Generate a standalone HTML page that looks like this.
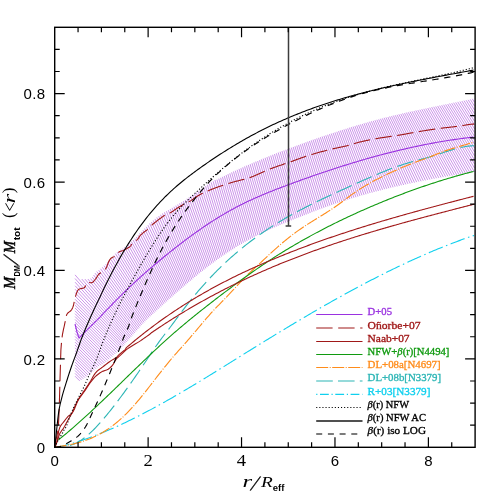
<!DOCTYPE html>
<html><head><meta charset="utf-8"><title>plot</title><style>html,body{margin:0;padding:0;background:#fff}svg{display:block}</style></head><body>
<svg width="501" height="501" viewBox="0 0 501 501">
<rect width="501" height="501" fill="#fff"/>
<path d="M75.04 376.20 L79.71 380.87 M75.06 373.38 L81.56 379.88 M75.07 370.55 L83.27 378.75 M75.08 367.72 L84.98 377.62 M75.09 364.89 L86.69 376.49 M75.10 362.06 L88.25 375.21 M75.11 359.23 L89.82 373.94 M75.13 356.41 L91.39 372.67 M75.14 353.58 L92.81 371.25 M75.01 350.61 L94.38 369.98 M75.02 347.78 L95.95 368.71 M75.03 344.95 L97.52 367.44 M75.04 342.12 L99.08 366.16 M75.05 339.29 L101.08 365.32 M75.07 336.47 L102.78 364.18 M75.08 333.64 L104.49 363.05 M75.09 330.81 L106.06 361.78 M75.10 327.98 L107.63 360.51 M75.09 325.14 L109.17 359.23 M75.03 322.25 L110.67 357.89 M75.07 319.44 L112.26 356.63 M75.07 316.59 L113.67 355.20 M75.02 313.70 L115.19 353.86 M75.01 310.84 L116.73 352.56 M75.05 308.04 L118.18 351.17 M75.06 305.21 L119.61 349.76 M75.00 302.29 L120.97 348.25 M75.05 299.25 L122.15 346.89 M75.01 295.94 L123.36 345.73 M75.05 292.63 L124.46 344.45 M75.10 289.25 L125.51 343.16 M75.13 285.77 L126.65 341.92 M75.08 282.18 L127.84 340.71 M75.05 278.55 L128.88 339.34 M75.03 274.86 L130.05 338.07 M81.79 279.04 L131.19 336.79 M84.95 279.12 L132.32 335.45 M87.89 279.02 L133.53 334.19 M90.52 278.60 L134.72 332.88 M92.27 277.12 L135.78 331.44 M93.56 275.04 L137.00 330.19 M95.06 273.20 L138.15 328.87 M96.73 271.56 L139.33 327.61 M98.67 270.24 L140.42 326.18 M100.49 268.77 L141.62 324.91 M102.29 267.25 L142.81 323.60 M104.04 265.73 L144.08 322.42 M105.75 264.16 L145.32 321.18 M107.45 262.55 L146.55 319.89 M109.14 260.93 L147.77 318.59 M110.83 259.28 L149.09 317.42 M112.30 257.28 L150.41 316.23 M113.86 255.46 L151.71 315.06 M115.42 253.63 L153.02 313.86 M117.12 252.18 L154.38 312.62 M118.92 250.89 L155.75 311.36 M120.82 249.78 L157.11 310.11 M122.74 248.66 L158.49 308.85 M124.56 247.40 L159.86 307.61 M126.39 246.14 L161.25 306.37 M128.02 244.54 L162.64 305.14 M129.75 243.14 L163.93 303.77 M131.40 241.57 L165.33 302.57 M133.07 240.05 L166.74 301.42 M134.77 238.55 L168.08 300.12 M136.40 236.91 L169.43 298.85 M138.05 235.27 L170.89 297.76 M139.61 233.47 L172.26 296.52 M141.29 231.88 L173.65 295.30 M142.91 230.11 L175.05 294.09 M144.62 228.55 L176.36 292.73 M146.27 226.84 L177.78 291.58 M147.94 225.14 L179.22 290.44 M149.63 223.46 L180.57 289.14 M151.42 221.96 L182.02 288.02 M153.21 220.45 L183.39 286.70 M155.01 218.94 L184.84 285.57 M156.81 217.43 L186.22 284.25 M158.70 216.11 L187.67 283.11 M160.58 214.79 L189.04 281.80 M162.47 213.48 L190.50 280.66 M164.43 212.35 L191.95 279.53 M166.39 211.22 L193.37 278.19 M168.28 210.11 L194.92 277.00 M170.17 209.00 L196.48 275.81 M172.06 207.89 L197.96 274.43 M173.94 206.77 L199.51 273.22 M175.83 205.65 L201.07 272.01 M177.71 204.53 L202.62 270.80 M179.60 203.40 L204.18 269.59 M181.48 202.28 L205.73 268.37 M183.36 201.16 L207.28 267.16 M185.24 200.04 L208.84 265.95 M187.05 198.74 L210.39 264.74 M188.93 197.63 L211.94 263.53 M190.74 196.32 L213.56 262.50 M192.63 195.19 L215.13 261.27 M194.47 193.87 L216.70 260.04 M196.30 192.57 L218.34 259.01 M198.13 191.30 L219.90 257.83 M199.98 190.04 L221.49 256.65 M201.84 188.81 L223.08 255.51 M203.72 187.58 L224.75 254.56 M205.52 186.12 L226.32 253.37 M207.36 184.79 L227.95 252.32 M209.29 183.66 L229.59 251.28 M211.15 182.35 L231.23 250.24 M213.08 181.25 L232.88 249.22 M214.95 179.97 L234.52 248.21 M216.97 179.69 L236.26 246.98 M218.77 178.66 L238.06 245.95 M220.62 177.84 L239.86 244.93 M222.42 176.84 L241.66 243.93 M224.28 176.04 L243.41 242.75 M226.10 175.06 L245.23 241.77 M227.92 174.09 L247.05 240.80 M229.79 173.33 L248.87 239.84 M231.61 172.38 L250.69 238.90 M233.43 171.45 L252.51 237.97 M235.31 170.73 L254.27 236.86 M237.15 169.81 L256.11 235.95 M238.99 168.91 L257.95 235.04 M240.88 168.21 L259.79 234.15 M242.72 167.33 L261.63 233.27 M244.56 166.46 L263.47 232.40 M246.40 165.60 L265.31 231.54 M248.30 164.95 L267.15 230.70 M250.14 164.11 L268.99 229.86 M252.00 163.27 L270.85 229.02 M253.86 162.44 L272.71 228.19 M255.72 161.62 L274.57 227.37 M257.63 161.00 L276.43 226.56 M259.49 160.20 L278.29 225.75 M261.35 159.40 L280.15 224.96 M263.21 158.62 L282.01 224.17 M265.07 157.84 L283.87 223.39 M266.93 157.06 L285.73 222.62 M268.81 156.29 L287.61 221.85 M270.69 155.53 L289.49 221.08 M272.57 154.77 L291.37 220.32 M274.45 154.01 L293.25 219.57 M276.33 153.27 L295.13 218.82 M278.21 152.52 L297.01 218.08 M280.09 151.79 L298.89 217.35 M281.97 151.06 L300.77 216.62 M283.91 150.52 L302.65 215.89 M285.79 149.80 L304.53 215.17 M287.67 149.08 L306.41 214.45 M289.55 148.37 L308.29 213.74 M291.39 147.67 L310.21 213.02 M293.19 146.99 L312.12 212.09 M294.98 146.31 L314.08 211.37 M296.77 145.64 L316.05 210.64 M298.57 144.97 L318.01 209.92 M300.38 144.30 L320.00 209.20 M302.20 143.63 L321.99 208.47 M304.01 142.96 L323.97 207.76 M305.82 142.30 L325.96 207.04 M307.64 141.64 L327.94 206.33 M309.45 140.99 L329.93 205.63 M311.27 140.34 L331.91 204.92 M313.08 139.70 L333.90 204.23 M314.89 139.06 L335.88 203.53 M316.71 138.43 L337.87 202.84 M318.52 137.80 L339.92 202.35 M320.34 137.18 L341.90 201.67 M322.15 136.56 L343.89 201.00 M323.97 135.95 L345.87 200.33 M325.78 135.35 L347.86 199.66 M327.60 134.75 L349.84 199.00 M329.43 134.15 L351.85 198.34 M331.26 133.55 L353.86 197.69 M333.10 132.96 L355.93 197.23 M334.93 132.38 L357.94 196.59 M336.77 131.81 L359.94 195.95 M338.53 131.05 L361.95 195.32 M340.34 130.50 L364.05 194.87 M342.15 129.95 L366.08 194.25 M343.97 129.41 L368.10 193.62 M345.80 128.87 L370.15 193.00 M347.63 128.34 L372.27 192.58 M349.39 127.63 L374.32 191.97 M351.22 127.11 L376.37 191.37 M353.05 126.60 L378.49 190.96 M354.89 126.10 L380.54 190.37 M356.64 125.42 L382.59 189.78 M358.49 124.92 L384.66 189.20 M360.34 124.43 L386.81 188.81 M362.19 123.95 L388.88 188.23 M363.97 123.30 L390.95 187.67 M365.82 122.83 L393.10 187.30 M367.67 122.37 L395.17 186.74 M369.46 121.73 L397.34 186.37 M371.33 121.28 L399.43 185.83 M373.20 120.84 L401.52 185.29 M374.98 120.22 L403.70 184.94 M376.84 119.80 L405.81 184.40 M378.68 119.39 L407.93 183.86 M380.45 118.80 L410.15 183.51 M382.31 118.40 L412.29 182.98 M384.09 117.82 L414.52 182.63 M385.95 117.43 L416.66 182.11 M387.83 117.05 L418.83 181.59 M389.62 116.48 L421.08 181.25 M391.50 116.11 L423.24 180.73 M393.29 115.56 L425.49 180.40 M395.16 115.20 L427.66 179.90 M397.06 114.83 L429.93 179.57 M398.87 114.30 L432.12 179.06 M400.76 113.95 L434.39 178.74 M402.57 113.42 L436.58 178.24 M404.46 113.08 L438.86 177.92 M406.29 112.56 L441.06 177.43 M408.20 112.23 L443.36 177.11 M410.02 111.72 L445.57 176.62 M411.94 111.39 L447.87 176.30 M413.93 111.03 L450.04 175.85 M415.84 110.49 L452.30 175.57 M417.84 110.13 L454.45 175.13 M419.85 109.77 L456.71 174.86 M421.75 109.24 L458.87 174.41 M423.75 108.89 L461.02 173.97 M425.76 108.54 L463.28 173.71 M427.68 108.01 L465.46 173.27 M429.70 107.66 L467.74 173.00 M431.62 107.14 L469.92 172.56 M433.65 106.80 L472.20 172.29 M435.67 106.45 L474.48 172.03 M437.59 105.94 L474.51 167.98 M439.61 105.59 L474.53 163.95 M441.63 105.25 L474.52 159.92 M443.57 104.74 L474.52 155.90 M445.61 104.39 L474.51 151.90 M447.66 104.05 L474.57 148.07 M449.59 103.53 L474.52 144.08 M451.64 103.19 L474.56 140.28 M453.59 102.70 L474.60 136.51 M455.66 102.40 L474.52 132.59 M457.70 101.89 L474.55 128.86 M459.85 101.55 L474.58 125.13 M461.89 101.04 L474.50 121.23 M464.04 100.71 L474.53 117.50 M466.08 100.20 L474.56 113.77 M468.23 99.86 L474.59 110.03 M470.27 99.35 L474.51 106.13 M472.31 98.84 L474.54 102.40 M474.46 98.50 L474.57 98.67" stroke="#a23cd8" stroke-width="0.6" stroke-opacity="0.92" fill="none"/>
<defs><clipPath id="cp"><rect x="54.7" y="27.3" width="420.40000000000003" height="420.0"/></clipPath></defs>
<g clip-path="url(#cp)">
<path d="M55.00 447.89 L56.40 447.57 L57.80 447.24 L59.20 446.90 L60.61 446.55 L62.01 446.20 L63.41 445.83 L64.81 445.46 L66.21 445.08 L67.61 444.69 L69.01 444.30 L70.41 443.89 L71.82 443.48 L73.22 443.06 L74.62 442.63 L76.02 442.20 L77.42 441.75 L78.82 441.30 L80.22 440.84 L81.63 440.38 L83.03 439.91 L84.43 439.43 L85.83 438.94 L87.23 438.44 L88.63 437.94 L90.03 437.43 L91.43 436.92 L92.84 436.39 L94.24 435.86 L95.64 435.33 L97.04 434.79 L98.44 434.24 L99.84 433.68 L101.24 433.12 L102.65 432.55 L104.05 431.97 L105.45 431.39 L106.85 430.80 L108.25 430.21 L109.65 429.61 L111.05 429.00 L112.45 428.39 L113.86 427.77 L115.26 427.15 L116.66 426.52 L118.06 425.89 L119.46 425.24 L120.86 424.60 L122.26 423.95 L123.67 423.29 L125.07 422.63 L126.47 421.96 L127.87 421.29 L129.27 420.61 L130.67 419.92 L132.07 419.24 L133.47 418.54 L134.88 417.85 L136.28 417.14 L137.68 416.43 L139.08 415.72 L140.48 415.01 L141.88 414.28 L143.28 413.56 L144.69 412.83 L146.09 412.09 L147.49 411.35 L148.89 410.61 L150.29 409.86 L151.69 409.11 L153.09 408.36 L154.49 407.60 L155.90 406.84 L157.30 406.07 L158.70 405.30 L160.10 404.52 L161.50 403.75 L162.90 402.96 L164.30 402.18 L165.71 401.39 L167.11 400.60 L168.51 399.80 L169.91 399.01 L171.31 398.20 L172.71 397.40 L174.11 396.59 L175.52 395.78 L176.92 394.97 L178.32 394.15 L179.72 393.34 L181.12 392.51 L182.52 391.69 L183.92 390.86 L185.32 390.03 L186.73 389.20 L188.13 388.37 L189.53 387.53 L190.93 386.70 L192.33 385.86 L193.73 385.01 L195.13 384.17 L196.54 383.32 L197.94 382.48 L199.34 381.63 L200.74 380.77 L202.14 379.92 L203.54 379.07 L204.94 378.21 L206.34 377.35 L207.75 376.49 L209.15 375.63 L210.55 374.77 L211.95 373.91 L213.35 373.04 L214.75 372.18 L216.15 371.31 L217.56 370.45 L218.96 369.58 L220.36 368.71 L221.76 367.84 L223.16 366.97 L224.56 366.10 L225.96 365.23 L227.36 364.36 L228.77 363.49 L230.17 362.61 L231.57 361.74 L232.97 360.87 L234.37 360.00 L235.77 359.12 L237.17 358.25 L238.58 357.38 L239.98 356.50 L241.38 355.63 L242.78 354.76 L244.18 353.89 L245.58 353.02 L246.98 352.15 L248.38 351.28 L249.79 350.41 L251.19 349.54 L252.59 348.67 L253.99 347.80 L255.39 346.94 L256.79 346.07 L258.19 345.21 L259.60 344.34 L261.00 343.48 L262.40 342.62 L263.80 341.75 L265.20 340.89 L266.60 340.03 L268.00 339.17 L269.40 338.32 L270.81 337.46 L272.21 336.60 L273.61 335.75 L275.01 334.90 L276.41 334.04 L277.81 333.19 L279.21 332.34 L280.62 331.49 L282.02 330.64 L283.42 329.80 L284.82 328.95 L286.22 328.11 L287.62 327.27 L289.02 326.42 L290.42 325.58 L291.83 324.74 L293.23 323.91 L294.63 323.07 L296.03 322.24 L297.43 321.40 L298.83 320.57 L300.23 319.74 L301.64 318.91 L303.04 318.08 L304.44 317.26 L305.84 316.43 L307.24 315.61 L308.64 314.79 L310.04 313.97 L311.44 313.15 L312.85 312.34 L314.25 311.52 L315.65 310.71 L317.05 309.90 L318.45 309.09 L319.85 308.28 L321.25 307.48 L322.66 306.67 L324.06 305.87 L325.46 305.07 L326.86 304.27 L328.26 303.47 L329.66 302.68 L331.06 301.89 L332.46 301.10 L333.87 300.31 L335.27 299.52 L336.67 298.74 L338.07 297.96 L339.47 297.18 L340.87 296.40 L342.27 295.62 L343.68 294.85 L345.08 294.08 L346.48 293.31 L347.88 292.54 L349.28 291.78 L350.68 291.01 L352.08 290.25 L353.48 289.49 L354.89 288.74 L356.29 287.99 L357.69 287.23 L359.09 286.49 L360.49 285.74 L361.89 285.00 L363.29 284.26 L364.70 283.52 L366.10 282.78 L367.50 282.05 L368.90 281.32 L370.30 280.59 L371.70 279.86 L373.10 279.14 L374.51 278.42 L375.91 277.70 L377.31 276.99 L378.71 276.27 L380.11 275.56 L381.51 274.86 L382.91 274.15 L384.31 273.45 L385.72 272.75 L387.12 272.06 L388.52 271.36 L389.92 270.67 L391.32 269.99 L392.72 269.30 L394.12 268.62 L395.53 267.94 L396.93 267.27 L398.33 266.60 L399.73 265.93 L401.13 265.26 L402.53 264.60 L403.93 263.94 L405.33 263.28 L406.74 262.63 L408.14 261.98 L409.54 261.33 L410.94 260.69 L412.34 260.05 L413.74 259.41 L415.14 258.78 L416.55 258.15 L417.95 257.52 L419.35 256.90 L420.75 256.27 L422.15 255.66 L423.55 255.04 L424.95 254.43 L426.35 253.83 L427.76 253.22 L429.16 252.62 L430.56 252.03 L431.96 251.44 L433.36 250.85 L434.76 250.26 L436.16 249.68 L437.57 249.10 L438.97 248.53 L440.37 247.96 L441.77 247.39 L443.17 246.82 L444.57 246.27 L445.97 245.71 L447.37 245.16 L448.78 244.61 L450.18 244.06 L451.58 243.52 L452.98 242.99 L454.38 242.46 L455.78 241.93 L457.18 241.40 L458.59 240.88 L459.99 240.36 L461.39 239.85 L462.79 239.34 L464.19 238.84 L465.59 238.34 L466.99 237.84 L468.39 237.35 L469.80 236.86 L471.20 236.38 L472.60 235.90 L474.00 235.42" fill="none" stroke="#10d0ee" stroke-width="1.1" stroke-dasharray="15 3.5 1.5 3.5" stroke-linejoin="round"/>
<path d="M70.00 445.41 L71.35 445.02 L72.70 444.56 L74.05 444.03 L75.40 443.43 L76.76 442.77 L78.11 442.04 L79.46 441.25 L80.81 440.40 L82.16 439.49 L83.51 438.53 L84.86 437.51 L86.21 436.43 L87.57 435.31 L88.92 434.14 L90.27 432.92 L91.62 431.65 L92.97 430.35 L94.32 429.00 L95.67 427.61 L97.02 426.18 L98.37 424.72 L99.73 423.23 L101.08 421.71 L102.43 420.15 L103.78 418.57 L105.13 416.96 L106.48 415.33 L107.83 413.68 L109.18 412.01 L110.54 410.32 L111.89 408.61 L113.24 406.88 L114.59 405.15 L115.94 403.39 L117.29 401.62 L118.64 399.83 L119.99 398.03 L121.34 396.22 L122.70 394.39 L124.05 392.55 L125.40 390.69 L126.75 388.82 L128.10 386.94 L129.45 385.05 L130.80 383.14 L132.15 381.22 L133.51 379.29 L134.86 377.35 L136.21 375.40 L137.56 373.44 L138.91 371.46 L140.26 369.48 L141.61 367.49 L142.96 365.49 L144.31 363.48 L145.67 361.46 L147.02 359.43 L148.37 357.41 L149.72 355.39 L151.07 353.37 L152.42 351.37 L153.77 349.39 L155.12 347.42 L156.47 345.48 L157.83 343.57 L159.18 341.68 L160.53 339.84 L161.88 338.03 L163.23 336.26 L164.58 334.51 L165.93 332.77 L167.28 331.03 L168.64 329.29 L169.99 327.52 L171.34 325.73 L172.69 323.92 L174.04 322.09 L175.39 320.25 L176.74 318.40 L178.09 316.56 L179.44 314.73 L180.80 312.92 L182.15 311.12 L183.50 309.34 L184.85 307.58 L186.20 305.84 L187.55 304.12 L188.90 302.41 L190.25 300.72 L191.61 299.05 L192.96 297.39 L194.31 295.76 L195.66 294.14 L197.01 292.54 L198.36 290.95 L199.71 289.38 L201.06 287.83 L202.41 286.29 L203.77 284.78 L205.12 283.27 L206.47 281.79 L207.82 280.32 L209.17 278.86 L210.52 277.43 L211.87 276.00 L213.22 274.60 L214.58 273.21 L215.93 271.83 L217.28 270.47 L218.63 269.13 L219.98 267.80 L221.33 266.48 L222.68 265.18 L224.03 263.90 L225.38 262.63 L226.74 261.37 L228.09 260.13 L229.44 258.90 L230.79 257.68 L232.14 256.48 L233.49 255.29 L234.84 254.12 L236.19 252.96 L237.55 251.81 L238.90 250.67 L240.25 249.55 L241.60 248.44 L242.95 247.34 L244.30 246.25 L245.65 245.18 L247.00 244.12 L248.35 243.07 L249.71 242.03 L251.06 241.00 L252.41 239.99 L253.76 238.98 L255.11 237.99 L256.46 237.01 L257.81 236.03 L259.16 235.07 L260.52 234.12 L261.87 233.18 L263.22 232.25 L264.57 231.33 L265.92 230.42 L267.27 229.51 L268.62 228.62 L269.97 227.74 L271.32 226.86 L272.68 226.00 L274.03 225.14 L275.38 224.30 L276.73 223.46 L278.08 222.63 L279.43 221.80 L280.78 220.99 L282.13 220.18 L283.48 219.38 L284.84 218.59 L286.19 217.81 L287.54 217.03 L288.89 216.26 L290.24 215.50 L291.59 214.74 L292.94 213.99 L294.29 213.25 L295.65 212.51 L297.00 211.78 L298.35 211.06 L299.70 210.34 L301.05 209.63 L302.40 208.92 L303.75 208.22 L305.10 207.52 L306.45 206.83 L307.81 206.14 L309.16 205.46 L310.51 204.78 L311.86 204.11 L313.21 203.44 L314.56 202.78 L315.91 202.12 L317.26 201.46 L318.62 200.81 L319.97 200.16 L321.32 199.51 L322.67 198.87 L324.02 198.23 L325.37 197.59 L326.72 196.96 L328.07 196.33 L329.42 195.70 L330.78 195.07 L332.13 194.44 L333.48 193.82 L334.83 193.20 L336.18 192.58 L337.53 191.96 L338.88 191.35 L340.23 190.73 L341.59 190.12 L342.94 189.50 L344.29 188.89 L345.64 188.28 L346.99 187.67 L348.34 187.06 L349.69 186.44 L351.04 185.83 L352.39 185.22 L353.75 184.61 L355.10 184.00 L356.45 183.39 L357.80 182.78 L359.15 182.17 L360.50 181.57 L361.85 180.96 L363.20 180.36 L364.56 179.76 L365.91 179.16 L367.26 178.57 L368.61 177.97 L369.96 177.38 L371.31 176.80 L372.66 176.21 L374.01 175.63 L375.36 175.06 L376.72 174.49 L378.07 173.92 L379.42 173.36 L380.77 172.80 L382.12 172.25 L383.47 171.70 L384.82 171.16 L386.17 170.62 L387.53 170.09 L388.88 169.57 L390.23 169.05 L391.58 168.54 L392.93 168.03 L394.28 167.54 L395.63 167.05 L396.98 166.56 L398.33 166.09 L399.69 165.62 L401.04 165.16 L402.39 164.71 L403.74 164.27 L405.09 163.84 L406.44 163.42 L407.79 163.00 L409.14 162.60 L410.49 162.20 L411.85 161.82 L413.20 161.44 L414.55 161.07 L415.90 160.70 L417.25 160.34 L418.60 159.98 L419.95 159.62 L421.30 159.26 L422.66 158.90 L424.01 158.53 L425.36 158.17 L426.71 157.79 L428.06 157.41 L429.41 157.02 L430.76 156.61 L432.11 156.20 L433.46 155.78 L434.82 155.36 L436.17 154.92 L437.52 154.48 L438.87 154.04 L440.22 153.60 L441.57 153.15 L442.92 152.71 L444.27 152.26 L445.63 151.83 L446.98 151.39 L448.33 150.96 L449.68 150.54 L451.03 150.13 L452.38 149.72 L453.73 149.33 L455.08 148.95 L456.43 148.59 L457.79 148.23 L459.14 147.90 L460.49 147.58 L461.84 147.29 L463.19 147.01 L464.54 146.75 L465.89 146.52 L467.24 146.31 L468.60 146.13 L469.95 145.98 L471.30 145.85 L472.65 145.75 L474.00 145.69" fill="none" stroke="#2cb5b5" stroke-width="1.1" stroke-dasharray="16.5 5.5" stroke-linejoin="round"/>
<path d="M55.00 447.04 L56.40 446.86 L57.80 446.68 L59.20 446.48 L60.61 446.28 L62.01 446.07 L63.41 445.85 L64.81 445.62 L66.21 445.37 L67.61 445.12 L69.01 444.85 L70.41 444.56 L71.82 444.27 L73.22 443.95 L74.62 443.62 L76.02 443.28 L77.42 442.91 L78.82 442.53 L80.22 442.13 L81.63 441.70 L83.03 441.26 L84.43 440.80 L85.83 440.31 L87.23 439.80 L88.63 439.26 L90.03 438.71 L91.43 438.12 L92.84 437.51 L94.24 436.87 L95.64 436.21 L97.04 435.51 L98.44 434.79 L99.84 434.04 L101.24 433.25 L102.65 432.44 L104.05 431.59 L105.45 430.71 L106.85 429.80 L108.25 428.86 L109.65 427.88 L111.05 426.87 L112.45 425.83 L113.86 424.76 L115.26 423.65 L116.66 422.50 L118.06 421.33 L119.46 420.12 L120.86 418.87 L122.26 417.59 L123.67 416.28 L125.07 414.93 L126.47 413.54 L127.87 412.12 L129.27 410.66 L130.67 409.17 L132.07 407.64 L133.47 406.07 L134.88 404.48 L136.28 402.85 L137.68 401.20 L139.08 399.53 L140.48 397.83 L141.88 396.11 L143.28 394.37 L144.69 392.62 L146.09 390.85 L147.49 389.07 L148.89 387.28 L150.29 385.48 L151.69 383.68 L153.09 381.87 L154.49 380.06 L155.90 378.25 L157.30 376.45 L158.70 374.65 L160.10 372.85 L161.50 371.07 L162.90 369.29 L164.30 367.53 L165.71 365.79 L167.11 364.06 L168.51 362.36 L169.91 360.67 L171.31 359.01 L172.71 357.37 L174.11 355.75 L175.52 354.15 L176.92 352.55 L178.32 350.97 L179.72 349.39 L181.12 347.82 L182.52 346.25 L183.92 344.68 L185.32 343.11 L186.73 341.52 L188.13 339.93 L189.53 338.32 L190.93 336.70 L192.33 335.06 L193.73 333.41 L195.13 331.76 L196.54 330.09 L197.94 328.42 L199.34 326.75 L200.74 325.08 L202.14 323.42 L203.54 321.76 L204.94 320.12 L206.34 318.48 L207.75 316.87 L209.15 315.27 L210.55 313.69 L211.95 312.14 L213.35 310.61 L214.75 309.12 L216.15 307.65 L217.56 306.21 L218.96 304.78 L220.36 303.36 L221.76 301.93 L223.16 300.50 L224.56 299.06 L225.96 297.61 L227.36 296.15 L228.77 294.67 L230.17 293.19 L231.57 291.70 L232.97 290.20 L234.37 288.69 L235.77 287.18 L237.17 285.66 L238.58 284.16 L239.98 282.66 L241.38 281.17 L242.78 279.69 L244.18 278.24 L245.58 276.80 L246.98 275.39 L248.38 274.01 L249.79 272.66 L251.19 271.33 L252.59 270.02 L253.99 268.73 L255.39 267.44 L256.79 266.16 L258.19 264.88 L259.60 263.59 L261.00 262.29 L262.40 260.98 L263.80 259.67 L265.20 258.35 L266.60 257.03 L268.00 255.72 L269.40 254.41 L270.81 253.11 L272.21 251.83 L273.61 250.56 L275.01 249.30 L276.41 248.06 L277.81 246.83 L279.21 245.61 L280.62 244.41 L282.02 243.22 L283.42 242.04 L284.82 240.88 L286.22 239.74 L287.62 238.61 L289.02 237.50 L290.42 236.40 L291.83 235.32 L293.23 234.25 L294.63 233.20 L296.03 232.17 L297.43 231.16 L298.83 230.16 L300.23 229.18 L301.64 228.22 L303.04 227.27 L304.44 226.34 L305.84 225.43 L307.24 224.52 L308.64 223.63 L310.04 222.74 L311.44 221.86 L312.85 220.99 L314.25 220.12 L315.65 219.26 L317.05 218.40 L318.45 217.53 L319.85 216.67 L321.25 215.81 L322.66 214.94 L324.06 214.06 L325.46 213.18 L326.86 212.29 L328.26 211.39 L329.66 210.48 L331.06 209.55 L332.46 208.62 L333.87 207.67 L335.27 206.70 L336.67 205.73 L338.07 204.74 L339.47 203.74 L340.87 202.72 L342.27 201.69 L343.68 200.65 L345.08 199.60 L346.48 198.54 L347.88 197.48 L349.28 196.44 L350.68 195.40 L352.08 194.39 L353.48 193.40 L354.89 192.43 L356.29 191.48 L357.69 190.54 L359.09 189.63 L360.49 188.73 L361.89 187.85 L363.29 186.98 L364.70 186.13 L366.10 185.30 L367.50 184.48 L368.90 183.68 L370.30 182.89 L371.70 182.11 L373.10 181.35 L374.51 180.59 L375.91 179.85 L377.31 179.12 L378.71 178.40 L380.11 177.69 L381.51 176.99 L382.91 176.30 L384.31 175.62 L385.72 174.94 L387.12 174.28 L388.52 173.62 L389.92 172.96 L391.32 172.31 L392.72 171.67 L394.12 171.03 L395.53 170.40 L396.93 169.78 L398.33 169.16 L399.73 168.55 L401.13 167.94 L402.53 167.34 L403.93 166.75 L405.33 166.16 L406.74 165.59 L408.14 165.02 L409.54 164.46 L410.94 163.90 L412.34 163.35 L413.74 162.81 L415.14 162.28 L416.55 161.76 L417.95 161.25 L419.35 160.74 L420.75 160.24 L422.15 159.75 L423.55 159.26 L424.95 158.77 L426.35 158.27 L427.76 157.76 L429.16 157.24 L430.56 156.69 L431.96 156.13 L433.36 155.55 L434.76 154.96 L436.16 154.37 L437.57 153.79 L438.97 153.21 L440.37 152.65 L441.77 152.12 L443.17 151.60 L444.57 151.09 L445.97 150.61 L447.37 150.14 L448.78 149.68 L450.18 149.23 L451.58 148.80 L452.98 148.37 L454.38 147.95 L455.78 147.53 L457.18 147.12 L458.59 146.72 L459.99 146.31 L461.39 145.90 L462.79 145.50 L464.19 145.09 L465.59 144.68 L466.99 144.26 L468.39 143.83 L469.80 143.39 L471.20 142.95 L472.60 142.49 L474.00 142.02" fill="none" stroke="#ff8c1a" stroke-width="1.1" stroke-dasharray="11.4 1.6 1 1.6" stroke-linejoin="round"/>
<path d="M58.40 439.95 L59.79 438.82 L61.19 437.69 L62.58 436.55 L63.97 435.40 L65.37 434.24 L66.76 433.07 L68.15 431.89 L69.55 430.71 L70.94 429.51 L72.33 428.31 L73.73 427.10 L75.12 425.88 L76.51 424.66 L77.91 423.42 L79.30 422.18 L80.69 420.94 L82.09 419.69 L83.48 418.43 L84.87 417.16 L86.27 415.89 L87.66 414.61 L89.05 413.33 L90.45 412.04 L91.84 410.75 L93.23 409.45 L94.63 408.15 L96.02 406.84 L97.41 405.53 L98.81 404.22 L100.20 402.90 L101.59 401.57 L102.99 400.25 L104.38 398.92 L105.77 397.59 L107.17 396.25 L108.56 394.91 L109.95 393.57 L111.35 392.23 L112.74 390.89 L114.13 389.54 L115.53 388.19 L116.92 386.84 L118.31 385.49 L119.71 384.14 L121.10 382.79 L122.49 381.43 L123.89 380.08 L125.28 378.73 L126.67 377.37 L128.07 376.02 L129.46 374.67 L130.85 373.31 L132.25 371.96 L133.64 370.61 L135.03 369.26 L136.43 367.92 L137.82 366.57 L139.21 365.23 L140.61 363.88 L142.00 362.54 L143.39 361.21 L144.79 359.87 L146.18 358.54 L147.57 357.21 L148.97 355.89 L150.36 354.57 L151.75 353.25 L153.15 351.94 L154.54 350.64 L155.93 349.33 L157.33 348.04 L158.72 346.74 L160.11 345.46 L161.51 344.18 L162.90 342.90 L164.29 341.64 L165.68 340.38 L167.08 339.12 L168.47 337.87 L169.86 336.64 L171.26 335.40 L172.65 334.18 L174.04 332.96 L175.44 331.75 L176.83 330.55 L178.22 329.36 L179.62 328.17 L181.01 326.98 L182.40 325.81 L183.80 324.64 L185.19 323.47 L186.58 322.32 L187.98 321.16 L189.37 320.02 L190.76 318.88 L192.16 317.74 L193.55 316.61 L194.94 315.48 L196.34 314.36 L197.73 313.25 L199.12 312.13 L200.52 311.02 L201.91 309.92 L203.30 308.82 L204.70 307.72 L206.09 306.63 L207.48 305.54 L208.88 304.45 L210.27 303.37 L211.66 302.29 L213.06 301.21 L214.45 300.13 L215.84 299.06 L217.24 297.99 L218.63 296.92 L220.02 295.86 L221.42 294.79 L222.81 293.73 L224.20 292.68 L225.60 291.62 L226.99 290.57 L228.38 289.52 L229.78 288.48 L231.17 287.44 L232.56 286.40 L233.96 285.37 L235.35 284.34 L236.74 283.31 L238.14 282.29 L239.53 281.27 L240.92 280.25 L242.32 279.24 L243.71 278.23 L245.10 277.23 L246.50 276.23 L247.89 275.24 L249.28 274.25 L250.68 273.26 L252.07 272.28 L253.46 271.31 L254.86 270.34 L256.25 269.37 L257.64 268.41 L259.04 267.45 L260.43 266.50 L261.82 265.56 L263.22 264.62 L264.61 263.68 L266.00 262.75 L267.40 261.83 L268.79 260.91 L270.18 260.00 L271.58 259.09 L272.97 258.19 L274.36 257.30 L275.76 256.41 L277.15 255.53 L278.54 254.65 L279.94 253.78 L281.33 252.91 L282.72 252.05 L284.12 251.19 L285.51 250.34 L286.90 249.50 L288.30 248.66 L289.69 247.82 L291.08 246.99 L292.48 246.17 L293.87 245.35 L295.26 244.53 L296.66 243.72 L298.05 242.92 L299.44 242.12 L300.84 241.33 L302.23 240.53 L303.62 239.75 L305.02 238.97 L306.41 238.19 L307.80 237.42 L309.20 236.65 L310.59 235.89 L311.98 235.13 L313.38 234.38 L314.77 233.63 L316.16 232.88 L317.56 232.14 L318.95 231.40 L320.34 230.67 L321.74 229.94 L323.13 229.22 L324.52 228.50 L325.92 227.78 L327.31 227.07 L328.70 226.36 L330.10 225.66 L331.49 224.96 L332.88 224.26 L334.28 223.57 L335.67 222.88 L337.06 222.20 L338.46 221.52 L339.85 220.84 L341.24 220.17 L342.64 219.50 L344.03 218.83 L345.42 218.17 L346.82 217.51 L348.21 216.86 L349.60 216.20 L351.00 215.56 L352.39 214.91 L353.78 214.27 L355.18 213.64 L356.57 213.00 L357.96 212.37 L359.36 211.74 L360.75 211.12 L362.14 210.50 L363.54 209.88 L364.93 209.27 L366.32 208.66 L367.72 208.05 L369.11 207.45 L370.50 206.85 L371.89 206.25 L373.29 205.65 L374.68 205.06 L376.07 204.47 L377.47 203.89 L378.86 203.31 L380.25 202.73 L381.65 202.15 L383.04 201.58 L384.43 201.01 L385.83 200.44 L387.22 199.88 L388.61 199.32 L390.01 198.76 L391.40 198.21 L392.79 197.66 L394.19 197.11 L395.58 196.57 L396.97 196.03 L398.37 195.49 L399.76 194.95 L401.15 194.42 L402.55 193.89 L403.94 193.37 L405.33 192.85 L406.73 192.33 L408.12 191.81 L409.51 191.30 L410.91 190.79 L412.30 190.29 L413.69 189.79 L415.09 189.29 L416.48 188.79 L417.87 188.30 L419.27 187.81 L420.66 187.33 L422.05 186.85 L423.45 186.37 L424.84 185.89 L426.23 185.42 L427.63 184.95 L429.02 184.49 L430.41 184.02 L431.81 183.57 L433.20 183.11 L434.59 182.66 L435.99 182.21 L437.38 181.77 L438.77 181.32 L440.17 180.89 L441.56 180.45 L442.95 180.02 L444.35 179.59 L445.74 179.17 L447.13 178.75 L448.53 178.33 L449.92 177.92 L451.31 177.51 L452.71 177.10 L454.10 176.69 L455.49 176.29 L456.89 175.90 L458.28 175.50 L459.67 175.11 L461.07 174.73 L462.46 174.35 L463.85 173.97 L465.25 173.59 L466.64 173.22 L468.03 172.85 L469.43 172.48 L470.82 172.12 L472.21 171.76 L473.61 171.41" fill="none" stroke="#109a10" stroke-width="1.1" stroke-linejoin="round"/>
<path d="M55.00 447.00 L56.19 443.52 L57.37 440.57 L58.56 431.43 L59.75 427.61 L60.93 425.34 L62.12 423.74 L63.31 422.36 L64.49 420.85 L65.68 419.28 L66.86 417.78 L68.05 416.45 L69.24 415.44 L70.42 414.57 L71.61 413.47 L72.80 411.56 L73.98 408.53 L75.17 405.64 L76.36 403.14 L77.54 400.82 L78.73 398.77 L79.92 396.91 L81.10 395.17 L82.29 393.48 L83.47 391.78 L84.66 390.01 L85.85 388.25 L87.03 386.49 L88.22 384.72 L89.41 382.92 L90.59 381.04 L91.78 378.97 L92.97 376.85 L94.15 374.83 L95.34 373.09 L96.53 371.76 L97.71 370.69 L98.90 369.75 L100.08 368.90 L101.27 368.05 L102.46 367.14 L103.64 366.22 L104.83 365.29 L106.02 364.36 L107.20 363.45 L108.39 362.56 L109.58 361.71 L110.76 360.89 L111.95 360.12 L113.14 359.46 L114.32 358.82 L115.51 358.07 L116.69 357.09 L117.88 355.92 L119.07 354.70 L120.25 353.57 L121.44 352.56 L122.63 351.63 L123.81 350.76 L125.00 349.92 L126.41 347.65 L127.81 346.45 L129.22 345.25 L130.62 344.06 L132.03 342.88 L133.43 341.71 L134.84 340.54 L136.24 339.39 L137.65 338.25 L139.06 337.11 L140.46 335.98 L141.87 334.86 L143.27 333.75 L144.68 332.65 L146.08 331.55 L147.49 330.46 L148.90 329.39 L150.30 328.32 L151.71 327.25 L153.11 326.20 L154.52 325.15 L155.92 324.11 L157.33 323.08 L158.73 322.06 L160.14 321.04 L161.55 320.04 L162.95 319.04 L164.36 318.04 L165.76 317.06 L167.17 316.08 L168.57 315.11 L169.98 314.15 L171.39 313.19 L172.79 312.24 L174.20 311.30 L175.60 310.36 L177.01 309.44 L178.41 308.51 L179.82 307.60 L181.22 306.69 L182.63 305.79 L184.04 304.90 L185.44 304.01 L186.85 303.13 L188.25 302.26 L189.66 301.39 L191.06 300.53 L192.47 299.67 L193.88 298.82 L195.28 297.98 L196.69 297.14 L198.09 296.31 L199.50 295.49 L200.90 294.67 L202.31 293.86 L203.71 293.05 L205.12 292.25 L206.53 291.46 L207.93 290.67 L209.34 289.88 L210.74 289.10 L212.15 288.33 L213.55 287.56 L214.96 286.80 L216.37 286.05 L217.77 285.29 L219.18 284.55 L220.58 283.81 L221.99 283.07 L223.39 282.34 L224.80 281.62 L226.20 280.90 L227.61 280.18 L229.02 279.47 L230.42 278.76 L231.83 278.06 L233.23 277.36 L234.64 276.67 L236.04 275.98 L237.45 275.30 L238.86 274.62 L240.26 273.95 L241.67 273.28 L243.07 272.61 L244.48 271.95 L245.88 271.29 L247.29 270.63 L248.69 269.98 L250.10 269.34 L251.51 268.70 L252.91 268.06 L254.32 267.42 L255.72 266.79 L257.13 266.17 L258.53 265.54 L259.94 264.92 L261.35 264.31 L262.75 263.69 L264.16 263.08 L265.56 262.48 L266.97 261.87 L268.37 261.27 L269.78 260.68 L271.18 260.08 L272.59 259.49 L274.00 258.90 L275.40 258.32 L276.81 257.74 L278.21 257.16 L279.62 256.58 L281.02 256.01 L282.43 255.44 L283.84 254.87 L285.24 254.30 L286.65 253.74 L288.05 253.18 L289.46 252.63 L290.86 252.07 L292.27 251.52 L293.67 250.97 L295.08 250.43 L296.49 249.89 L297.89 249.35 L299.30 248.81 L300.70 248.28 L302.11 247.74 L303.51 247.21 L304.92 246.69 L306.33 246.16 L307.73 245.64 L309.14 245.12 L310.54 244.60 L311.95 244.09 L313.35 243.58 L314.76 243.07 L316.16 242.56 L317.57 242.06 L318.98 241.56 L320.38 241.06 L321.79 240.56 L323.19 240.06 L324.60 239.57 L326.00 239.08 L327.41 238.59 L328.82 238.10 L330.22 237.62 L331.63 237.14 L333.03 236.66 L334.44 236.18 L335.84 235.71 L337.25 235.23 L338.65 234.76 L340.06 234.29 L341.47 233.83 L342.87 233.36 L344.28 232.90 L345.68 232.44 L347.09 231.98 L348.49 231.52 L349.90 231.07 L351.31 230.61 L352.71 230.16 L354.12 229.71 L355.52 229.27 L356.93 228.82 L358.33 228.38 L359.74 227.93 L361.14 227.49 L362.55 227.05 L363.96 226.62 L365.36 226.18 L366.77 225.75 L368.17 225.32 L369.58 224.89 L370.98 224.46 L372.39 224.03 L373.80 223.61 L375.20 223.18 L376.61 222.76 L378.01 222.34 L379.42 221.92 L380.82 221.50 L382.23 221.09 L383.63 220.67 L385.04 220.26 L386.45 219.85 L387.85 219.44 L389.26 219.03 L390.66 218.62 L392.07 218.22 L393.47 217.81 L394.88 217.41 L396.29 217.00 L397.69 216.60 L399.10 216.20 L400.50 215.81 L401.91 215.41 L403.31 215.01 L404.72 214.62 L406.12 214.22 L407.53 213.83 L408.94 213.44 L410.34 213.05 L411.75 212.66 L413.15 212.27 L414.56 211.88 L415.96 211.50 L417.37 211.11 L418.78 210.73 L420.18 210.34 L421.59 209.96 L422.99 209.58 L424.40 209.20 L425.80 208.82 L427.21 208.44 L428.61 208.06 L430.02 207.68 L431.43 207.30 L432.83 206.93 L434.24 206.55 L435.64 206.18 L437.05 205.80 L438.45 205.43 L439.86 205.06 L441.27 204.69 L442.67 204.32 L444.08 203.94 L445.48 203.57 L446.89 203.21 L448.29 202.84 L449.70 202.47 L451.10 202.10 L452.51 201.73 L453.92 201.37 L455.32 201.00 L456.73 200.63 L458.13 200.27 L459.54 199.90 L460.94 199.54 L462.35 199.17 L463.76 198.81 L465.16 198.44 L466.57 198.08 L467.97 197.72 L469.38 197.35 L470.78 196.99 L472.19 196.63 L473.59 196.27" fill="none" stroke="#a01818" stroke-width="1.1" stroke-linejoin="round"/>
<path d="M55.00 447.00 L56.61 443.10 L58.22 437.88 L59.83 433.34 L61.44 430.94 L63.05 428.92 L64.66 426.20 L66.27 423.17 L67.88 420.21 L69.49 417.49 L71.10 414.83 L72.71 412.26 L74.32 409.34 L75.93 405.36 L77.54 401.40 L79.15 398.58 L80.76 396.30 L82.37 394.22 L83.98 392.02 L85.59 389.59 L87.20 387.08 L88.81 384.64 L90.42 382.44 L92.03 380.37 L93.64 378.42 L95.25 376.70 L96.86 375.25 L98.47 373.96 L100.08 372.82 L101.69 371.86 L103.31 371.12 L104.92 370.57 L106.53 370.00 L108.14 369.22 L109.75 368.06 L111.36 366.52 L112.97 364.65 L114.58 361.85 L116.19 359.14 L117.80 357.49 L119.41 356.13 L121.02 354.63 L122.63 353.05 L124.24 351.51 L125.85 350.12 L127.46 348.91 L129.07 347.79 L130.68 346.74 L132.29 345.74 L133.90 344.78 L135.51 343.83 L137.12 342.87 L138.73 341.88 L140.34 340.84 L141.95 339.74 L143.56 338.61 L145.17 337.49 L146.78 336.36 L148.39 335.21 L150.00 334.00 L151.30 332.82 L152.60 331.93 L153.90 331.05 L155.20 330.17 L156.51 329.29 L157.81 328.42 L159.11 327.56 L160.41 326.70 L161.71 325.84 L163.01 324.99 L164.31 324.14 L165.61 323.30 L166.92 322.46 L168.22 321.62 L169.52 320.79 L170.82 319.96 L172.12 319.14 L173.42 318.32 L174.72 317.51 L176.02 316.70 L177.33 315.90 L178.63 315.09 L179.93 314.30 L181.23 313.50 L182.53 312.72 L183.83 311.93 L185.13 311.15 L186.43 310.37 L187.73 309.60 L189.04 308.83 L190.34 308.07 L191.64 307.31 L192.94 306.55 L194.24 305.80 L195.54 305.05 L196.84 304.30 L198.14 303.56 L199.45 302.82 L200.75 302.09 L202.05 301.36 L203.35 300.63 L204.65 299.91 L205.95 299.19 L207.25 298.48 L208.55 297.77 L209.86 297.06 L211.16 296.35 L212.46 295.65 L213.76 294.96 L215.06 294.27 L216.36 293.58 L217.66 292.89 L218.96 292.21 L220.27 291.53 L221.57 290.86 L222.87 290.18 L224.17 289.52 L225.47 288.85 L226.77 288.19 L228.07 287.53 L229.37 286.88 L230.67 286.23 L231.98 285.58 L233.28 284.94 L234.58 284.30 L235.88 283.66 L237.18 283.03 L238.48 282.39 L239.78 281.77 L241.08 281.14 L242.39 280.52 L243.69 279.91 L244.99 279.29 L246.29 278.68 L247.59 278.07 L248.89 277.47 L250.19 276.87 L251.49 276.27 L252.80 275.67 L254.10 275.08 L255.40 274.49 L256.70 273.90 L258.00 273.32 L259.30 272.74 L260.60 272.16 L261.90 271.59 L263.20 271.02 L264.51 270.45 L265.81 269.88 L267.11 269.32 L268.41 268.76 L269.71 268.20 L271.01 267.65 L272.31 267.10 L273.61 266.55 L274.92 266.00 L276.22 265.46 L277.52 264.92 L278.82 264.38 L280.12 263.85 L281.42 263.32 L282.72 262.79 L284.02 262.26 L285.33 261.74 L286.63 261.22 L287.93 260.70 L289.23 260.18 L290.53 259.67 L291.83 259.16 L293.13 258.65 L294.43 258.14 L295.73 257.64 L297.04 257.14 L298.34 256.64 L299.64 256.14 L300.94 255.65 L302.24 255.16 L303.54 254.67 L304.84 254.18 L306.14 253.70 L307.45 253.21 L308.75 252.74 L310.05 252.26 L311.35 251.78 L312.65 251.31 L313.95 250.84 L315.25 250.37 L316.55 249.91 L317.86 249.44 L319.16 248.98 L320.46 248.52 L321.76 248.06 L323.06 247.61 L324.36 247.15 L325.66 246.70 L326.96 246.25 L328.27 245.81 L329.57 245.36 L330.87 244.92 L332.17 244.48 L333.47 244.04 L334.77 243.60 L336.07 243.16 L337.37 242.73 L338.67 242.30 L339.98 241.87 L341.28 241.44 L342.58 241.02 L343.88 240.59 L345.18 240.17 L346.48 239.75 L347.78 239.33 L349.08 238.91 L350.39 238.50 L351.69 238.08 L352.99 237.67 L354.29 237.26 L355.59 236.85 L356.89 236.45 L358.19 236.04 L359.49 235.64 L360.80 235.24 L362.10 234.84 L363.40 234.44 L364.70 234.04 L366.00 233.64 L367.30 233.25 L368.60 232.85 L369.90 232.46 L371.20 232.07 L372.51 231.68 L373.81 231.30 L375.11 230.91 L376.41 230.53 L377.71 230.14 L379.01 229.76 L380.31 229.38 L381.61 229.00 L382.92 228.62 L384.22 228.25 L385.52 227.87 L386.82 227.50 L388.12 227.12 L389.42 226.75 L390.72 226.38 L392.02 226.01 L393.33 225.64 L394.63 225.27 L395.93 224.91 L397.23 224.54 L398.53 224.18 L399.83 223.81 L401.13 223.45 L402.43 223.09 L403.73 222.73 L405.04 222.37 L406.34 222.01 L407.64 221.65 L408.94 221.30 L410.24 220.94 L411.54 220.59 L412.84 220.23 L414.14 219.88 L415.45 219.53 L416.75 219.18 L418.05 218.82 L419.35 218.47 L420.65 218.12 L421.95 217.78 L423.25 217.43 L424.55 217.08 L425.86 216.73 L427.16 216.39 L428.46 216.04 L429.76 215.70 L431.06 215.35 L432.36 215.01 L433.66 214.67 L434.96 214.33 L436.27 213.98 L437.57 213.64 L438.87 213.30 L440.17 212.96 L441.47 212.62 L442.77 212.28 L444.07 211.94 L445.37 211.60 L446.67 211.26 L447.98 210.93 L449.28 210.59 L450.58 210.25 L451.88 209.91 L453.18 209.58 L454.48 209.24 L455.78 208.90 L457.08 208.57 L458.39 208.23 L459.69 207.90 L460.99 207.56 L462.29 207.22 L463.59 206.89 L464.89 206.55 L466.19 206.22 L467.49 205.88 L468.80 205.55 L470.10 205.21 L471.40 204.88 L472.70 204.54 L474.00 204.21" fill="none" stroke="#a01818" stroke-width="1.1" stroke-linejoin="round"/>
<path d="M75.00 324.00 L77.00 332.00 L79.00 338.00 L79.00 338.00 L79.36 337.64 L79.71 337.28 L80.07 336.92 L80.42 336.56 L80.78 336.20 L81.14 335.85 L81.49 335.49 L81.85 335.13 L82.20 334.77 L82.56 334.41 L82.92 334.06 L83.27 333.70 L83.63 333.34 L83.98 332.99 L84.34 332.63 L84.69 332.27 L85.05 331.92 L85.41 331.56 L85.76 331.21 L86.12 330.85 L86.47 330.50 L86.83 330.14 L87.19 329.79 L87.54 329.43 L87.90 329.08 L88.25 328.73 L88.61 328.37 L88.97 328.02 L89.32 327.67 L89.68 327.32 L90.03 326.97 L90.39 326.62 L90.75 326.26 L91.10 325.91 L91.46 325.56 L91.81 325.21 L92.17 324.86 L92.53 324.51 L92.88 324.16 L93.24 323.81 L93.59 323.46 L93.95 323.11 L94.31 322.76 L94.66 322.42 L95.02 322.07 L95.37 321.72 L95.73 321.37 L96.08 321.02 L96.44 320.67 L96.80 320.33 L97.15 319.98 L97.51 319.63 L97.86 319.28 L98.22 318.94 L98.58 318.59 L98.93 318.24 L99.29 317.90 L99.64 317.55 L100.00 317.21 L101.51 315.36 L103.01 313.79 L104.52 312.23 L106.02 310.68 L107.53 309.12 L109.04 307.57 L110.54 306.03 L112.05 304.49 L113.55 302.96 L115.06 301.44 L116.57 299.92 L118.07 298.41 L119.58 296.90 L121.08 295.41 L122.59 293.92 L124.10 292.44 L125.60 290.98 L127.11 289.52 L128.61 288.07 L130.12 286.63 L131.63 285.21 L133.13 283.79 L134.64 282.39 L136.14 280.99 L137.65 279.61 L139.16 278.24 L140.66 276.87 L142.17 275.52 L143.67 274.17 L145.18 272.84 L146.69 271.51 L148.19 270.20 L149.70 268.89 L151.20 267.59 L152.71 266.30 L154.22 265.02 L155.72 263.75 L157.23 262.48 L158.73 261.22 L160.24 259.97 L161.75 258.73 L163.25 257.49 L164.76 256.27 L166.27 255.04 L167.77 253.83 L169.28 252.62 L170.78 251.42 L172.29 250.22 L173.80 249.03 L175.30 247.85 L176.81 246.67 L178.31 245.50 L179.82 244.34 L181.33 243.19 L182.83 242.04 L184.34 240.90 L185.84 239.77 L187.35 238.64 L188.86 237.52 L190.36 236.42 L191.87 235.31 L193.37 234.22 L194.88 233.14 L196.39 232.06 L197.89 231.00 L199.40 229.94 L200.90 228.89 L202.41 227.85 L203.92 226.82 L205.42 225.80 L206.93 224.79 L208.43 223.79 L209.94 222.80 L211.45 221.82 L212.95 220.85 L214.46 219.89 L215.96 218.94 L217.47 218.00 L218.98 217.07 L220.48 216.15 L221.99 215.25 L223.49 214.35 L225.00 213.47 L226.51 212.60 L228.01 211.74 L229.52 210.89 L231.02 210.05 L232.53 209.23 L234.04 208.41 L235.54 207.61 L237.05 206.82 L238.55 206.04 L240.06 205.27 L241.57 204.52 L243.07 203.77 L244.58 203.03 L246.08 202.30 L247.59 201.58 L249.10 200.87 L250.60 200.17 L252.11 199.48 L253.61 198.79 L255.12 198.12 L256.63 197.45 L258.13 196.79 L259.64 196.13 L261.14 195.49 L262.65 194.85 L264.16 194.22 L265.66 193.59 L267.17 192.97 L268.67 192.35 L270.18 191.74 L271.69 191.14 L273.19 190.54 L274.70 189.95 L276.20 189.36 L277.71 188.78 L279.22 188.19 L280.72 187.62 L282.23 187.04 L283.73 186.47 L285.24 185.91 L286.75 185.34 L288.25 184.78 L289.76 184.22 L291.27 183.67 L292.77 183.11 L294.28 182.56 L295.78 182.01 L297.29 181.46 L298.80 180.91 L300.30 180.37 L301.81 179.83 L303.31 179.29 L304.82 178.75 L306.33 178.21 L307.83 177.68 L309.34 177.15 L310.84 176.62 L312.35 176.09 L313.86 175.57 L315.36 175.05 L316.87 174.53 L318.37 174.01 L319.88 173.49 L321.39 172.98 L322.89 172.47 L324.40 171.96 L325.90 171.46 L327.41 170.96 L328.92 170.46 L330.42 169.96 L331.93 169.46 L333.43 168.97 L334.94 168.48 L336.45 168.00 L337.95 167.51 L339.46 167.03 L340.96 166.55 L342.47 166.07 L343.98 165.60 L345.48 165.13 L346.99 164.66 L348.49 164.19 L350.00 163.73 L351.51 163.27 L353.01 162.81 L354.52 162.36 L356.02 161.91 L357.53 161.46 L359.04 161.01 L360.54 160.57 L362.05 160.13 L363.55 159.70 L365.06 159.26 L366.57 158.83 L368.07 158.40 L369.58 157.98 L371.08 157.56 L372.59 157.14 L374.10 156.72 L375.60 156.31 L377.11 155.90 L378.61 155.49 L380.12 155.09 L381.63 154.69 L383.13 154.29 L384.64 153.90 L386.14 153.51 L387.65 153.12 L389.16 152.74 L390.66 152.36 L392.17 151.98 L393.67 151.61 L395.18 151.24 L396.69 150.87 L398.19 150.51 L399.70 150.15 L401.20 149.79 L402.71 149.43 L404.22 149.09 L405.72 148.74 L407.23 148.40 L408.73 148.06 L410.24 147.72 L411.75 147.39 L413.25 147.06 L414.76 146.73 L416.27 146.41 L417.77 146.10 L419.28 145.78 L420.78 145.47 L422.29 145.16 L423.80 144.86 L425.30 144.56 L426.81 144.27 L428.31 143.97 L429.82 143.69 L431.33 143.40 L432.83 143.12 L434.34 142.85 L435.84 142.57 L437.35 142.30 L438.86 142.04 L440.36 141.78 L441.87 141.52 L443.37 141.27 L444.88 141.02 L446.39 140.77 L447.89 140.53 L449.40 140.30 L450.90 140.06 L452.41 139.84 L453.92 139.61 L455.42 139.39 L456.93 139.17 L458.43 138.96 L459.94 138.75 L461.45 138.55 L462.95 138.35 L464.46 138.16 L465.96 137.96 L467.47 137.78 L468.98 137.60 L470.48 137.42 L471.99 137.24 L473.49 137.07" fill="none" stroke="#9a32e0" stroke-width="1.1" stroke-linejoin="round"/>
<path d="M55.00 447.00 L55.84 440.98 L56.68 436.63 L57.53 432.89 L58.37 426.67 L59.21 408.94 L60.05 378.18 L60.89 350.03 L61.73 339.55 L62.58 333.82 L63.42 329.63 L64.26 326.00 L65.10 321.95 L65.94 317.02 L66.78 314.52 L67.63 313.23 L68.47 312.46 L69.31 311.90 L70.15 311.33 L70.99 310.51 L71.83 309.33 L72.68 307.67 L73.52 305.25 L74.36 301.06 L75.20 297.63 L76.04 294.67 L76.88 292.26 L77.73 290.53 L78.57 289.45 L79.41 288.95 L80.25 288.68 L81.09 288.49 L81.93 288.34 L82.78 288.18 L83.62 287.96 L84.46 287.62 L85.30 286.44 L86.14 284.35 L86.98 282.59 L87.83 282.21 L88.67 282.33 L89.51 282.51 L90.35 282.69 L91.19 282.80 L92.03 282.66 L92.88 282.11 L93.72 281.26 L94.56 280.26 L95.40 279.23 L96.24 278.12 L97.08 276.70 L97.93 275.29 L98.77 274.23 L99.61 273.53 L100.45 272.96 L101.29 272.46 L102.13 271.94 L102.98 271.32 L103.82 270.62 L104.66 269.87 L105.50 268.96 L106.34 267.71 L107.18 265.64 L108.03 263.25 L108.87 261.24 L109.71 259.86 L110.55 258.73 L111.39 257.93 L112.23 257.42 L113.08 257.05 L113.92 256.74 L114.76 256.40 L115.60 255.97 L116.44 255.28 L117.28 254.13 L118.13 252.88 L118.97 252.02 L119.81 251.59 L120.65 251.27 L121.49 251.02 L122.33 250.79 L123.18 250.53 L124.02 250.19 L124.86 249.76 L125.70 249.26 L126.54 248.72 L127.38 248.18 L128.23 247.67 L129.07 247.22 L129.91 246.67 L130.75 245.75 L131.59 244.45 L132.43 243.17 L133.28 242.25 L134.12 241.61 L134.96 241.11 L135.80 240.64 L136.64 240.13 L137.48 239.49 L138.33 238.58 L139.17 237.06 L140.01 235.69 L140.85 234.80 L141.69 234.06 L142.54 233.38 L143.38 232.68 L144.22 232.01 L145.06 231.36 L145.90 230.72 L146.74 230.06 L147.59 229.36 L148.43 228.61 L149.27 227.77 L150.11 226.89 L150.95 226.01 L151.79 225.19 L152.64 224.44 L153.48 223.71 L154.32 223.00 L155.16 222.30 L156.00 221.63 L156.84 220.97 L157.69 220.32 L158.53 219.68 L159.37 219.06 L160.21 218.44 L161.05 217.82 L161.89 217.21 L162.74 216.60 L163.58 216.01 L164.42 215.46 L165.26 214.95 L166.10 214.49 L166.94 214.09 L167.79 213.73 L168.63 213.38 L169.47 213.03 L170.31 212.65 L171.15 212.22 L171.99 211.74 L172.84 211.21 L173.68 210.65 L174.52 210.07 L175.36 209.48 L176.20 208.89 L177.04 208.31 L177.89 207.76 L178.73 207.24 L179.57 206.72 L180.41 206.22 L181.25 205.72 L182.09 205.23 L182.94 204.75 L183.78 204.28 L184.62 203.83 L185.46 203.40 L186.30 203.00 L187.14 202.60 L187.99 202.20 L188.83 201.79 L189.67 201.35 L190.51 200.88 L191.35 200.34 L192.19 199.76 L193.04 199.15 L193.88 198.52 L194.72 197.88 L195.56 197.27 L196.40 196.69 L197.24 196.15 L198.09 195.67 L198.93 195.20 L199.77 194.74 L200.61 194.30 L201.45 193.86 L202.29 193.44 L203.14 193.03 L203.98 192.63 L204.82 192.24 L205.66 191.86 L206.50 191.48 L207.34 191.12 L208.19 190.76 L209.03 190.40 L209.87 190.05 L210.71 189.71 L211.55 189.37 L212.39 189.04 L213.24 188.71 L214.08 188.39 L214.92 188.07 L215.76 187.76 L216.60 187.45 L217.44 187.15 L218.29 186.85 L219.13 186.55 L219.97 186.26 L220.81 185.97 L221.65 185.68 L222.49 185.40 L223.34 185.12 L224.18 184.84 L225.02 184.57 L225.86 184.30 L226.70 184.03 L227.55 183.76 L228.39 183.50 L229.23 183.24 L230.07 182.98 L230.91 182.72 L231.75 182.48 L232.60 182.24 L233.44 182.01 L234.28 181.78 L235.12 181.56 L235.96 181.34 L236.80 181.12 L237.65 180.91 L238.49 180.70 L239.33 180.48 L240.17 180.27 L241.01 180.06 L241.85 179.84 L242.70 179.63 L243.54 179.41 L244.38 179.18 L245.22 178.95 L246.06 178.71 L246.90 178.47 L247.75 178.22 L248.59 177.96 L249.43 177.69 L250.27 177.41 L251.11 177.12 L251.95 176.81 L252.80 176.49 L253.64 176.15 L254.48 175.81 L255.32 175.46 L256.16 175.10 L257.00 174.73 L257.85 174.35 L258.69 173.97 L259.53 173.59 L260.37 173.20 L261.21 172.82 L262.05 172.43 L262.90 172.05 L263.74 171.66 L264.58 171.28 L265.42 170.91 L266.26 170.54 L267.10 170.18 L267.95 169.82 L268.79 169.48 L269.63 169.14 L270.47 168.82 L271.31 168.50 L272.15 168.19 L273.00 167.88 L273.84 167.57 L274.68 167.27 L275.52 166.97 L276.36 166.67 L277.20 166.38 L278.05 166.09 L278.89 165.80 L279.73 165.51 L280.57 165.22 L281.41 164.93 L282.25 164.65 L283.10 164.36 L283.94 164.08 L284.78 163.79 L285.62 163.51 L286.46 163.22 L287.30 162.93 L288.15 162.64 L288.99 162.35 L289.83 162.06 L290.67 161.76 L291.51 161.47 L292.35 161.17 L293.20 160.86 L294.04 160.56 L294.88 160.25 L295.72 159.95 L296.56 159.64 L297.40 159.34 L298.25 159.03 L299.09 158.72 L299.93 158.42 L300.77 158.12 L301.61 157.82 L302.45 157.52 L303.30 157.22 L304.14 156.93 L304.98 156.64 L305.82 156.35 L306.66 156.07 L307.51 155.79 L308.35 155.52 L309.19 155.25 L310.03 154.99 L310.87 154.73 L311.71 154.48 L312.56 154.23 L313.40 153.98 L314.24 153.73 L315.08 153.48 L315.92 153.24 L316.76 153.00 L317.61 152.76 L318.45 152.53 L319.29 152.29 L320.13 152.06 L320.97 151.83 L321.81 151.61 L322.66 151.38 L323.50 151.16 L324.34 150.94 L325.18 150.72 L326.02 150.50 L326.86 150.29 L327.71 150.07 L328.55 149.86 L329.39 149.65 L330.23 149.44 L331.07 149.24 L331.91 149.04 L332.76 148.85 L333.60 148.66 L334.44 148.47 L335.28 148.28 L336.12 148.10 L336.96 147.92 L337.81 147.75 L338.65 147.57 L339.49 147.39 L340.33 147.21 L341.17 147.04 L342.01 146.86 L342.86 146.68 L343.70 146.49 L344.54 146.31 L345.38 146.12 L346.22 145.93 L347.06 145.73 L347.91 145.53 L348.75 145.32 L349.59 145.11 L350.43 144.89 L351.27 144.65 L352.11 144.40 L352.96 144.14 L353.80 143.87 L354.64 143.60 L355.48 143.32 L356.32 143.06 L357.16 142.79 L358.01 142.54 L358.85 142.30 L359.69 142.08 L360.53 141.87 L361.37 141.67 L362.21 141.47 L363.06 141.28 L363.90 141.09 L364.74 140.90 L365.58 140.72 L366.42 140.54 L367.26 140.37 L368.11 140.19 L368.95 140.02 L369.79 139.86 L370.63 139.69 L371.47 139.53 L372.31 139.37 L373.16 139.21 L374.00 139.06 L374.84 138.91 L375.68 138.75 L376.52 138.60 L377.36 138.46 L378.21 138.31 L379.05 138.16 L379.89 138.02 L380.73 137.88 L381.57 137.74 L382.41 137.60 L383.26 137.47 L384.10 137.34 L384.94 137.21 L385.78 137.09 L386.62 136.96 L387.46 136.84 L388.31 136.72 L389.15 136.60 L389.99 136.48 L390.83 136.36 L391.67 136.24 L392.52 136.13 L393.36 136.01 L394.20 135.88 L395.04 135.76 L395.88 135.64 L396.72 135.51 L397.57 135.39 L398.41 135.25 L399.25 135.12 L400.09 134.99 L400.93 134.85 L401.77 134.70 L402.62 134.56 L403.46 134.41 L404.30 134.26 L405.14 134.11 L405.98 133.95 L406.82 133.80 L407.67 133.64 L408.51 133.48 L409.35 133.32 L410.19 133.16 L411.03 133.01 L411.87 132.85 L412.72 132.69 L413.56 132.53 L414.40 132.38 L415.24 132.23 L416.08 132.07 L416.92 131.92 L417.77 131.78 L418.61 131.63 L419.45 131.49 L420.29 131.35 L421.13 131.22 L421.97 131.08 L422.82 130.94 L423.66 130.81 L424.50 130.68 L425.34 130.54 L426.18 130.41 L427.02 130.28 L427.87 130.15 L428.71 130.02 L429.55 129.89 L430.39 129.77 L431.23 129.64 L432.07 129.51 L432.92 129.39 L433.76 129.27 L434.60 129.15 L435.44 129.03 L436.28 128.91 L437.12 128.79 L437.97 128.68 L438.81 128.56 L439.65 128.45 L440.49 128.34 L441.33 128.23 L442.17 128.12 L443.02 128.02 L443.86 127.92 L444.70 127.82 L445.54 127.72 L446.38 127.62 L447.22 127.53 L448.07 127.43 L448.91 127.34 L449.75 127.24 L450.59 127.15 L451.43 127.05 L452.27 126.96 L453.12 126.86 L453.96 126.77 L454.80 126.67 L455.64 126.56 L456.48 126.46 L457.32 126.36 L458.17 126.25 L459.01 126.14 L459.85 126.02 L460.69 125.90 L461.53 125.77 L462.37 125.62 L463.22 125.48 L464.06 125.32 L464.90 125.17 L465.74 125.02 L466.58 124.88 L467.42 124.74 L468.27 124.61 L469.11 124.50 L469.95 124.41 L470.79 124.32 L471.63 124.24 L472.47 124.17 L473.32 124.11 L474.16 124.05" fill="none" stroke="#a01818" stroke-width="1.1" stroke-dasharray="16.5 5.5" stroke-linejoin="round"/>
<path d="M54.80 447.00 L55.57 445.33 L56.33 443.74 L57.10 442.21 L57.86 440.75 L58.63 439.35 L59.40 438.02 L60.16 436.74 L60.93 435.61 L61.69 434.50 L62.46 433.13 L63.23 431.51 L63.99 430.01 L64.76 428.87 L65.53 427.80 L66.29 426.41 L67.06 424.53 L67.82 422.32 L68.59 419.98 L69.36 417.71 L70.12 415.70 L70.89 413.87 L71.65 412.10 L72.42 410.38 L73.19 408.70 L73.95 407.06 L74.72 405.46 L75.48 403.88 L76.25 402.31 L77.02 400.75 L77.78 399.20 L78.55 397.64 L79.32 396.06 L80.08 394.52 L80.85 393.01 L81.61 391.51 L82.38 390.01 L83.15 388.48 L83.91 386.89 L84.68 385.22 L85.44 383.49 L86.21 381.72 L86.98 379.94 L87.74 378.16 L88.51 376.43 L89.27 374.75 L90.04 373.12 L90.81 371.54 L91.57 369.97 L92.34 368.40 L93.11 366.82 L93.87 365.20 L94.64 363.54 L95.40 361.81 L96.17 359.99 L96.94 358.10 L97.70 356.16 L98.47 354.15 L99.23 352.09 L100.00 349.97 L101.50 345.55 L103.00 341.66 L104.51 337.86 L106.01 334.15 L107.51 330.54 L109.01 327.02 L110.51 323.58 L112.02 320.22 L113.52 316.93 L115.02 313.71 L116.52 310.56 L118.02 307.47 L119.53 304.43 L121.03 301.44 L122.53 298.51 L124.03 295.61 L125.53 292.75 L127.04 289.92 L128.54 287.13 L130.04 284.35 L131.54 281.60 L133.04 278.86 L134.55 276.13 L136.05 273.42 L137.55 270.73 L139.05 268.06 L140.55 265.41 L142.06 262.77 L143.56 260.17 L145.06 257.58 L146.56 255.03 L148.06 252.50 L149.57 250.00 L151.07 247.54 L152.57 245.10 L154.07 242.70 L155.57 240.34 L157.08 238.02 L158.58 235.73 L160.08 233.48 L161.58 231.28 L163.08 229.12 L164.59 227.01 L166.09 224.94 L167.59 222.92 L169.09 220.95 L170.59 219.03 L172.10 217.16 L173.60 215.35 L175.10 213.58 L176.60 211.86 L178.10 210.19 L179.61 208.55 L181.11 206.94 L182.61 205.38 L184.11 203.84 L185.61 202.33 L187.12 200.84 L188.62 199.37 L190.12 197.93 L191.62 196.50 L193.12 195.08 L194.63 193.67 L196.13 192.27 L197.63 190.87 L199.13 189.47 L200.63 188.08 L202.14 186.70 L203.64 185.32 L205.14 183.94 L206.64 182.57 L208.14 181.21 L209.65 179.85 L211.15 178.50 L212.65 177.16 L214.15 175.82 L215.65 174.49 L217.16 173.18 L218.66 171.87 L220.16 170.57 L221.66 169.28 L223.16 168.00 L224.67 166.73 L226.17 165.47 L227.67 164.23 L229.17 162.99 L230.67 161.77 L232.18 160.56 L233.68 159.36 L235.18 158.17 L236.68 157.00 L238.18 155.83 L239.69 154.67 L241.19 153.53 L242.69 152.40 L244.19 151.28 L245.69 150.17 L247.20 149.07 L248.70 147.98 L250.20 146.90 L251.70 145.83 L253.20 144.77 L254.71 143.73 L256.21 142.69 L257.71 141.67 L259.21 140.65 L260.71 139.65 L262.22 138.66 L263.72 137.67 L265.22 136.70 L266.72 135.74 L268.22 134.78 L269.73 133.84 L271.23 132.91 L272.73 131.99 L274.23 131.07 L275.73 130.17 L277.24 129.28 L278.74 128.40 L280.24 127.52 L281.74 126.66 L283.24 125.81 L284.75 124.96 L286.25 124.13 L287.75 123.30 L289.25 122.49 L290.76 121.68 L292.26 120.89 L293.76 120.10 L295.26 119.32 L296.76 118.55 L298.27 117.79 L299.77 117.04 L301.27 116.30 L302.77 115.57 L304.27 114.84 L305.78 114.13 L307.28 113.42 L308.78 112.73 L310.28 112.04 L311.78 111.36 L313.29 110.69 L314.79 110.02 L316.29 109.37 L317.79 108.72 L319.29 108.09 L320.80 107.46 L322.30 106.84 L323.80 106.23 L325.30 105.62 L326.80 105.03 L328.31 104.44 L329.81 103.86 L331.31 103.29 L332.81 102.73 L334.31 102.17 L335.82 101.62 L337.32 101.08 L338.82 100.55 L340.32 100.03 L341.82 99.51 L343.33 99.00 L344.83 98.50 L346.33 98.01 L347.83 97.52 L349.33 97.04 L350.84 96.56 L352.34 96.10 L353.84 95.64 L355.34 95.18 L356.84 94.73 L358.35 94.29 L359.85 93.86 L361.35 93.43 L362.85 93.00 L364.35 92.58 L365.86 92.17 L367.36 91.76 L368.86 91.36 L370.36 90.96 L371.86 90.57 L373.37 90.18 L374.87 89.80 L376.37 89.42 L377.87 89.04 L379.37 88.67 L380.88 88.31 L382.38 87.94 L383.88 87.58 L385.38 87.23 L386.88 86.88 L388.39 86.53 L389.89 86.18 L391.39 85.84 L392.89 85.50 L394.39 85.16 L395.90 84.83 L397.40 84.50 L398.90 84.17 L400.40 83.84 L401.90 83.51 L403.41 83.19 L404.91 82.87 L406.41 82.55 L407.91 82.23 L409.41 81.91 L410.92 81.60 L412.42 81.28 L413.92 80.97 L415.42 80.65 L416.92 80.34 L418.43 80.03 L419.93 79.72 L421.43 79.41 L422.93 79.10 L424.43 78.78 L425.94 78.47 L427.44 78.16 L428.94 77.85 L430.44 77.54 L431.94 77.22 L433.45 76.91 L434.95 76.59 L436.45 76.27 L437.95 75.96 L439.45 75.64 L440.96 75.32 L442.46 74.99 L443.96 74.67 L445.46 74.34 L446.96 74.01 L448.47 73.68 L449.97 73.35 L451.47 73.01 L452.97 72.67 L454.47 72.33 L455.98 71.99 L457.48 71.64 L458.98 71.29 L460.48 70.94 L461.98 70.58 L463.49 70.22 L464.99 69.85 L466.49 69.48 L467.99 69.11 L469.49 68.73 L471.00 68.35 L472.50 67.96 L474.00 67.57" fill="none" stroke="#000" stroke-width="1.15" stroke-dasharray="1.1 2.0" stroke-linejoin="round"/>
<path d="M54.80 447.00 L56.07 446.96 L57.35 446.85 L58.62 446.70 L59.90 446.52 L61.17 446.23 L62.45 445.76 L63.72 445.15 L65.00 444.44 L66.27 443.70 L67.55 442.95 L68.82 442.25 L70.09 441.53 L71.37 440.79 L72.64 440.02 L73.92 439.20 L75.19 438.32 L76.47 437.37 L77.74 436.34 L79.02 435.21 L80.29 433.90 L81.57 432.41 L82.84 430.74 L84.12 428.93 L85.39 426.98 L86.66 424.86 L87.94 422.35 L89.21 419.58 L90.49 416.75 L91.76 414.02 L93.04 411.31 L94.31 408.57 L95.59 405.83 L96.86 403.08 L98.14 400.31 L99.41 397.49 L100.68 394.61 L101.96 391.70 L103.23 388.77 L104.51 385.82 L105.78 382.85 L107.06 379.84 L108.33 376.78 L109.61 373.69 L110.88 370.57 L112.16 367.45 L113.43 364.32 L114.71 361.14 L115.98 357.92 L117.25 354.66 L118.53 351.36 L119.80 348.01 L121.08 344.59 L122.35 340.92 L123.63 337.43 L124.90 334.59 L126.18 332.02 L127.45 329.32 L128.73 326.02 L130.00 322.08 L131.39 317.97 L132.77 314.46 L134.16 310.98 L135.54 307.53 L136.93 304.10 L138.31 300.71 L139.70 297.35 L141.08 294.01 L142.47 290.72 L143.86 287.46 L145.24 284.23 L146.63 281.05 L148.01 277.90 L149.40 274.80 L150.78 271.74 L152.17 268.73 L153.55 265.76 L154.94 262.84 L156.33 259.97 L157.71 257.15 L159.10 254.38 L160.48 251.66 L161.87 249.00 L163.25 246.40 L164.64 243.85 L166.02 241.35 L167.41 238.91 L168.80 236.51 L170.18 234.17 L171.57 231.87 L172.95 229.61 L174.34 227.40 L175.72 225.23 L177.11 223.11 L178.49 221.02 L179.88 218.96 L181.27 216.95 L182.65 214.96 L184.04 213.01 L185.42 211.08 L186.81 209.19 L188.19 207.32 L189.58 205.48 L190.96 203.66 L192.35 201.86 L193.73 200.09 L195.12 198.34 L196.51 196.61 L197.89 194.90 L199.28 193.22 L200.66 191.56 L202.05 189.93 L203.43 188.33 L204.82 186.75 L206.20 185.20 L207.59 183.68 L208.98 182.19 L210.36 180.73 L211.75 179.30 L213.13 177.91 L214.52 176.53 L215.90 175.19 L217.29 173.87 L218.67 172.57 L220.06 171.30 L221.45 170.05 L222.83 168.81 L224.22 167.60 L225.60 166.40 L226.99 165.22 L228.37 164.06 L229.76 162.91 L231.14 161.78 L232.53 160.66 L233.92 159.55 L235.30 158.46 L236.69 157.38 L238.07 156.32 L239.46 155.27 L240.84 154.23 L242.23 153.20 L243.61 152.19 L245.00 151.19 L246.39 150.20 L247.77 149.22 L249.16 148.26 L250.54 147.30 L251.93 146.36 L253.31 145.43 L254.70 144.50 L256.08 143.59 L257.47 142.69 L258.86 141.80 L260.24 140.91 L261.63 140.04 L263.01 139.17 L264.40 138.31 L265.78 137.46 L267.17 136.62 L268.55 135.79 L269.94 134.96 L271.33 134.14 L272.71 133.33 L274.10 132.52 L275.48 131.72 L276.87 130.93 L278.25 130.14 L279.64 129.36 L281.02 128.58 L282.41 127.81 L283.80 127.04 L285.18 126.28 L286.57 125.52 L287.95 124.77 L289.34 124.03 L290.72 123.29 L292.11 122.55 L293.49 121.83 L294.88 121.10 L296.27 120.39 L297.65 119.67 L299.04 118.97 L300.42 118.27 L301.81 117.57 L303.19 116.89 L304.58 116.20 L305.96 115.53 L307.35 114.86 L308.73 114.19 L310.12 113.53 L311.51 112.88 L312.89 112.24 L314.28 111.60 L315.66 110.96 L317.05 110.34 L318.43 109.72 L319.82 109.10 L321.20 108.49 L322.59 107.89 L323.98 107.30 L325.36 106.71 L326.75 106.13 L328.13 105.55 L329.52 104.99 L330.90 104.43 L332.29 103.87 L333.67 103.32 L335.06 102.78 L336.45 102.25 L337.83 101.72 L339.22 101.20 L340.60 100.69 L341.99 100.19 L343.37 99.69 L344.76 99.20 L346.14 98.72 L347.53 98.24 L348.92 97.77 L350.30 97.31 L351.69 96.86 L353.07 96.41 L354.46 95.97 L355.84 95.54 L357.23 95.12 L358.61 94.70 L360.00 94.29 L361.39 93.89 L362.77 93.50 L364.16 93.12 L365.54 92.74 L366.93 92.37 L368.31 92.01 L369.70 91.65 L371.08 91.30 L372.47 90.96 L373.86 90.62 L375.24 90.29 L376.63 89.96 L378.01 89.64 L379.40 89.33 L380.78 89.02 L382.17 88.72 L383.55 88.42 L384.94 88.13 L386.33 87.84 L387.71 87.56 L389.10 87.28 L390.48 87.00 L391.87 86.73 L393.25 86.47 L394.64 86.20 L396.02 85.95 L397.41 85.69 L398.80 85.44 L400.18 85.19 L401.57 84.94 L402.95 84.70 L404.34 84.46 L405.72 84.22 L407.11 83.99 L408.49 83.75 L409.88 83.52 L411.27 83.29 L412.65 83.07 L414.04 82.84 L415.42 82.61 L416.81 82.39 L418.19 82.17 L419.58 81.95 L420.96 81.73 L422.35 81.50 L423.73 81.28 L425.12 81.06 L426.51 80.84 L427.89 80.62 L429.28 80.40 L430.66 80.18 L432.05 79.96 L433.43 79.74 L434.82 79.51 L436.20 79.29 L437.59 79.06 L438.98 78.84 L440.36 78.61 L441.75 78.38 L443.13 78.14 L444.52 77.91 L445.90 77.67 L447.29 77.43 L448.67 77.19 L450.06 76.95 L451.45 76.70 L452.83 76.45 L454.22 76.19 L455.60 75.94 L456.99 75.67 L458.37 75.41 L459.76 75.14 L461.14 74.87 L462.53 74.59 L463.92 74.31 L465.30 74.02 L466.69 73.73 L468.07 73.43 L469.46 73.13 L470.84 72.82 L472.23 72.51 L473.61 72.19" fill="none" stroke="#000" stroke-width="1.15" stroke-dasharray="6.3 5.7" stroke-linejoin="round"/>
<path d="M54.80 447.00 L55.57 439.92 L56.33 432.96 L57.10 425.65 L57.86 418.54 L58.63 412.40 L59.40 407.81 L60.16 404.21 L60.93 401.08 L61.69 398.06 L62.46 395.20 L63.23 392.47 L63.99 389.85 L64.76 387.32 L65.53 384.84 L66.29 382.40 L67.06 379.96 L67.82 377.52 L68.59 375.13 L69.36 372.78 L70.12 370.48 L70.89 368.22 L71.65 365.99 L72.42 363.81 L73.19 361.70 L73.95 359.65 L74.72 357.61 L75.48 355.57 L76.25 353.51 L77.02 351.39 L77.78 349.19 L78.55 346.95 L79.32 344.70 L80.08 342.50 L80.85 340.40 L81.61 338.40 L82.38 336.44 L83.15 334.51 L83.91 332.61 L84.68 330.74 L85.44 328.89 L86.21 327.07 L86.98 325.27 L87.74 323.49 L88.51 321.73 L89.27 319.99 L90.04 318.26 L90.81 316.55 L91.57 314.84 L92.34 313.15 L93.11 311.46 L93.87 309.78 L94.64 308.12 L95.40 306.48 L96.17 304.87 L96.94 303.27 L97.70 301.70 L98.47 300.13 L99.23 298.56 L100.00 297.00 L101.51 293.63 L103.01 290.45 L104.52 287.32 L106.02 284.23 L107.53 281.19 L109.04 278.19 L110.54 275.25 L112.05 272.34 L113.55 269.49 L115.06 266.67 L116.57 263.91 L118.07 261.19 L119.58 258.51 L121.08 255.88 L122.59 253.29 L124.10 250.75 L125.60 248.25 L127.11 245.80 L128.61 243.38 L130.12 241.01 L131.63 238.69 L133.13 236.41 L134.64 234.16 L136.14 231.96 L137.65 229.80 L139.16 227.68 L140.66 225.60 L142.17 223.56 L143.67 221.56 L145.18 219.59 L146.69 217.67 L148.19 215.78 L149.70 213.92 L151.20 212.10 L152.71 210.32 L154.22 208.57 L155.72 206.85 L157.23 205.17 L158.73 203.52 L160.24 201.90 L161.75 200.31 L163.25 198.76 L164.76 197.23 L166.27 195.74 L167.77 194.27 L169.28 192.83 L170.78 191.42 L172.29 190.04 L173.80 188.68 L175.30 187.34 L176.81 186.02 L178.31 184.73 L179.82 183.46 L181.33 182.21 L182.83 180.98 L184.34 179.77 L185.84 178.57 L187.35 177.39 L188.86 176.23 L190.36 175.08 L191.87 173.94 L193.37 172.82 L194.88 171.71 L196.39 170.61 L197.89 169.52 L199.40 168.43 L200.90 167.36 L202.41 166.29 L203.92 165.23 L205.42 164.18 L206.93 163.14 L208.43 162.10 L209.94 161.07 L211.45 160.05 L212.95 159.03 L214.46 158.02 L215.96 157.02 L217.47 156.03 L218.98 155.05 L220.48 154.07 L221.99 153.10 L223.49 152.14 L225.00 151.18 L226.51 150.23 L228.01 149.29 L229.52 148.36 L231.02 147.44 L232.53 146.52 L234.04 145.61 L235.54 144.71 L237.05 143.81 L238.55 142.93 L240.06 142.05 L241.57 141.17 L243.07 140.31 L244.58 139.45 L246.08 138.60 L247.59 137.76 L249.10 136.93 L250.60 136.10 L252.11 135.28 L253.61 134.47 L255.12 133.67 L256.63 132.87 L258.13 132.08 L259.64 131.30 L261.14 130.53 L262.65 129.76 L264.16 129.00 L265.66 128.25 L267.17 127.51 L268.67 126.78 L270.18 126.05 L271.69 125.33 L273.19 124.61 L274.70 123.90 L276.20 123.20 L277.71 122.51 L279.22 121.83 L280.72 121.15 L282.23 120.47 L283.73 119.81 L285.24 119.15 L286.75 118.50 L288.25 117.85 L289.76 117.21 L291.27 116.58 L292.77 115.96 L294.28 115.34 L295.78 114.72 L297.29 114.12 L298.80 113.51 L300.30 112.92 L301.81 112.33 L303.31 111.75 L304.82 111.17 L306.33 110.60 L307.83 110.04 L309.34 109.48 L310.84 108.92 L312.35 108.37 L313.86 107.83 L315.36 107.30 L316.87 106.76 L318.37 106.24 L319.88 105.72 L321.39 105.20 L322.89 104.69 L324.40 104.19 L325.90 103.69 L327.41 103.19 L328.92 102.70 L330.42 102.22 L331.93 101.74 L333.43 101.26 L334.94 100.79 L336.45 100.33 L337.95 99.87 L339.46 99.41 L340.96 98.96 L342.47 98.51 L343.98 98.07 L345.48 97.63 L346.99 97.20 L348.49 96.77 L350.00 96.34 L351.51 95.92 L353.01 95.50 L354.52 95.09 L356.02 94.68 L357.53 94.27 L359.04 93.87 L360.54 93.47 L362.05 93.08 L363.55 92.69 L365.06 92.30 L366.57 91.92 L368.07 91.54 L369.58 91.16 L371.08 90.79 L372.59 90.42 L374.10 90.05 L375.60 89.69 L377.11 89.33 L378.61 88.97 L380.12 88.61 L381.63 88.26 L383.13 87.91 L384.64 87.57 L386.14 87.23 L387.65 86.89 L389.16 86.55 L390.66 86.21 L392.17 85.88 L393.67 85.55 L395.18 85.22 L396.69 84.90 L398.19 84.57 L399.70 84.25 L401.20 83.93 L402.71 83.62 L404.22 83.30 L405.72 82.99 L407.23 82.68 L408.73 82.37 L410.24 82.07 L411.75 81.76 L413.25 81.46 L414.76 81.16 L416.27 80.86 L417.77 80.56 L419.28 80.26 L420.78 79.97 L422.29 79.67 L423.80 79.38 L425.30 79.09 L426.81 78.80 L428.31 78.51 L429.82 78.22 L431.33 77.93 L432.83 77.65 L434.34 77.36 L435.84 77.08 L437.35 76.79 L438.86 76.51 L440.36 76.23 L441.87 75.95 L443.37 75.66 L444.88 75.38 L446.39 75.10 L447.89 74.82 L449.40 74.54 L450.90 74.26 L452.41 73.98 L453.92 73.71 L455.42 73.43 L456.93 73.15 L458.43 72.87 L459.94 72.59 L461.45 72.31 L462.95 72.03 L464.46 71.75 L465.96 71.47 L467.47 71.19 L468.98 70.91 L470.48 70.63 L471.99 70.34 L473.49 70.06" fill="none" stroke="#000" stroke-width="1.1" stroke-linejoin="round"/>
</g>
<path d="M288.5 27.3 L288.5 226 M285.6 226 L291.2 226" stroke="#3c3c3c" stroke-width="1.5" fill="none"/>
<rect x="54.7" y="27.3" width="420.40000000000003" height="420.0" fill="none" stroke="#000" stroke-width="1.4"/>
<path d="M78.06 447.30 L78.06 442.30 M78.06 27.30 L78.06 32.30 M101.41 447.30 L101.41 442.30 M101.41 27.30 L101.41 32.30 M124.77 447.30 L124.77 442.30 M124.77 27.30 L124.77 32.30 M148.12 447.30 L148.12 437.30 M148.12 27.30 L148.12 37.30 M171.48 447.30 L171.48 442.30 M171.48 27.30 L171.48 32.30 M194.83 447.30 L194.83 442.30 M194.83 27.30 L194.83 32.30 M218.19 447.30 L218.19 442.30 M218.19 27.30 L218.19 32.30 M241.54 447.30 L241.54 437.30 M241.54 27.30 L241.54 37.30 M264.90 447.30 L264.90 442.30 M264.90 27.30 L264.90 32.30 M288.26 447.30 L288.26 442.30 M288.26 27.30 L288.26 32.30 M311.61 447.30 L311.61 442.30 M311.61 27.30 L311.61 32.30 M334.97 447.30 L334.97 437.30 M334.97 27.30 L334.97 37.30 M358.32 447.30 L358.32 442.30 M358.32 27.30 L358.32 32.30 M381.68 447.30 L381.68 442.30 M381.68 27.30 L381.68 32.30 M405.03 447.30 L405.03 442.30 M405.03 27.30 L405.03 32.30 M428.39 447.30 L428.39 437.30 M428.39 27.30 L428.39 37.30 M451.74 447.30 L451.74 442.30 M451.74 27.30 L451.74 32.30 M54.70 425.19 L59.70 425.19 M475.10 425.19 L470.10 425.19 M54.70 403.09 L59.70 403.09 M475.10 403.09 L470.10 403.09 M54.70 380.98 L59.70 380.98 M475.10 380.98 L470.10 380.98 M54.70 358.88 L64.70 358.88 M475.10 358.88 L465.10 358.88 M54.70 336.77 L59.70 336.77 M475.10 336.77 L470.10 336.77 M54.70 314.67 L59.70 314.67 M475.10 314.67 L470.10 314.67 M54.70 292.56 L59.70 292.56 M475.10 292.56 L470.10 292.56 M54.70 270.46 L64.70 270.46 M475.10 270.46 L465.10 270.46 M54.70 248.35 L59.70 248.35 M475.10 248.35 L470.10 248.35 M54.70 226.25 L59.70 226.25 M475.10 226.25 L470.10 226.25 M54.70 204.14 L59.70 204.14 M475.10 204.14 L470.10 204.14 M54.70 182.04 L64.70 182.04 M475.10 182.04 L465.10 182.04 M54.70 159.93 L59.70 159.93 M475.10 159.93 L470.10 159.93 M54.70 137.83 L59.70 137.83 M475.10 137.83 L470.10 137.83 M54.70 115.72 L59.70 115.72 M475.10 115.72 L470.10 115.72 M54.70 93.62 L64.70 93.62 M475.10 93.62 L465.10 93.62 M54.70 71.51 L59.70 71.51 M475.10 71.51 L470.10 71.51 M54.70 49.41 L59.70 49.41 M475.10 49.41 L470.10 49.41" stroke="#000" stroke-width="1.2" fill="none"/>
<text x="54.7" y="465.8" text-anchor="middle" font-family="Liberation Sans, sans-serif" font-size="15">0</text>
<text x="148.1" y="465.8" text-anchor="middle" font-family="Liberation Serif, serif" font-size="16.4" textLength="9.3" lengthAdjust="spacingAndGlyphs">2</text>
<text x="241.5" y="465.8" text-anchor="middle" font-family="Liberation Serif, serif" font-size="16.4" textLength="9.3" lengthAdjust="spacingAndGlyphs">4</text>
<text x="335.0" y="465.8" text-anchor="middle" font-family="Liberation Sans, sans-serif" font-size="15">6</text>
<text x="428.4" y="465.8" text-anchor="middle" font-family="Liberation Sans, sans-serif" font-size="15">8</text>
<text x="45.6" y="453.1" text-anchor="end" font-family="Liberation Sans, sans-serif" font-size="15" letter-spacing="0.4">0</text>
<text x="45.6" y="364.7" text-anchor="end" font-family="Liberation Sans, sans-serif" font-size="15" letter-spacing="0.4">0.2</text>
<text x="45.6" y="276.3" text-anchor="end" font-family="Liberation Sans, sans-serif" font-size="15" letter-spacing="0.4">0.4</text>
<text x="45.6" y="187.8" text-anchor="end" font-family="Liberation Sans, sans-serif" font-size="15" letter-spacing="0.4">0.6</text>
<text x="45.6" y="99.4" text-anchor="end" font-family="Liberation Sans, sans-serif" font-size="15" letter-spacing="0.4">0.8</text>
<path d="M316.2 314.5 L362.5 314.5" stroke="#9a32e0" stroke-width="1.2" fill="none"/>
<text x="367.6" y="315.1" font-family="Liberation Serif, serif" font-size="10.4" fill="#9a32e0" stroke="#9a32e0" stroke-width="0.32" textLength="24.4" lengthAdjust="spacingAndGlyphs" xml:space="preserve">D+05</text>
<path d="M316.2 328.0 L362.5 328.0" stroke="#a01818" stroke-width="1.15" stroke-dasharray="16.4 5.6" fill="none"/>
<text x="367.6" y="328.5" font-family="Liberation Serif, serif" font-size="10.4" fill="#a01818" stroke="#a01818" stroke-width="0.32" textLength="53" lengthAdjust="spacingAndGlyphs" xml:space="preserve">Oñorbe+07</text>
<path d="M316.2 341.5 L362.5 341.5" stroke="#a01818" stroke-width="1.2" fill="none"/>
<text x="367.6" y="341.8" font-family="Liberation Serif, serif" font-size="10.4" fill="#a01818" stroke="#a01818" stroke-width="0.32" textLength="42" lengthAdjust="spacingAndGlyphs" xml:space="preserve">Naab+07</text>
<path d="M316.2 354.5 L362.5 354.5" stroke="#109a10" stroke-width="1.2" fill="none"/>
<text x="367.6" y="354.8" font-family="Liberation Serif, serif" font-size="10.4" fill="#109a10" stroke="#109a10" stroke-width="0.32" textLength="81.8" lengthAdjust="spacingAndGlyphs" xml:space="preserve">NFW+<tspan font-style="italic">β</tspan>(r)[N4494]</text>
<path d="M316.2 367.5 L362.5 367.5" stroke="#ff8c1a" stroke-width="1.2" stroke-dasharray="12 1.5 1 1.5" fill="none"/>
<text x="367.6" y="367.8" font-family="Liberation Serif, serif" font-size="10.4" fill="#ff8c1a" stroke="#ff8c1a" stroke-width="0.32" textLength="73" lengthAdjust="spacingAndGlyphs" xml:space="preserve">DL+08a[N4697]</text>
<path d="M316.2 381.0 L362.5 381.0" stroke="#2cb5b5" stroke-width="1.15" stroke-dasharray="16.6 5.2" fill="none"/>
<text x="367.6" y="381.2" font-family="Liberation Serif, serif" font-size="10.4" fill="#2cb5b5" stroke="#2cb5b5" stroke-width="0.32" textLength="73.4" lengthAdjust="spacingAndGlyphs" xml:space="preserve">DL+08b[N3379]</text>
<path d="M316.2 394.4 L362.5 394.4" stroke="#10d0ee" stroke-width="1.15" stroke-dasharray="1.2 2.6 8.8 2.7" fill="none"/>
<text x="367.6" y="394.5" font-family="Liberation Serif, serif" font-size="10.4" fill="#10d0ee" stroke="#10d0ee" stroke-width="0.32" textLength="62.8" lengthAdjust="spacingAndGlyphs" xml:space="preserve">R+03[N3379]</text>
<path d="M316.2 407.5 L362.5 407.5" stroke="#000" stroke-width="1.15" stroke-dasharray="1.1 2.0" fill="none"/>
<text x="367.6" y="407.8" font-family="Liberation Serif, serif" font-size="10.4" fill="#000" stroke="#000" stroke-width="0.32" textLength="41.4" lengthAdjust="spacingAndGlyphs" xml:space="preserve"><tspan font-style="italic">β</tspan>(r) NFW</text>
<path d="M316.2 421.0 L362.5 421.0" stroke="#505050" stroke-width="1.8" fill="none"/>
<text x="367.6" y="421.2" font-family="Liberation Serif, serif" font-size="10.4" fill="#000" stroke="#000" stroke-width="0.32" textLength="58.4" lengthAdjust="spacingAndGlyphs" xml:space="preserve"><tspan font-style="italic">β</tspan>(r) NFW AC</text>
<path d="M316.2 434.0 L362.5 434.0" stroke="#505050" stroke-width="1.6" stroke-dasharray="6 5.7" fill="none"/>
<text x="367.6" y="434.2" font-family="Liberation Serif, serif" font-size="10.4" fill="#000" stroke="#000" stroke-width="0.32" textLength="58.4" lengthAdjust="spacingAndGlyphs" xml:space="preserve"><tspan font-style="italic">β</tspan>(r) iso LOG</text>
<text x="242.4" y="486.6" font-family="Liberation Serif, serif" font-style="italic" font-size="17.5" textLength="9.6" lengthAdjust="spacingAndGlyphs">r</text>
<text transform="translate(250,489.6) skewX(-22)" x="0" y="0" font-family="Liberation Serif, serif" font-size="20" stroke="#000" stroke-width="0.4">/</text>
<text x="260.9" y="486.6" font-family="Liberation Serif, serif" font-style="italic" font-size="14.6" textLength="11.8" lengthAdjust="spacingAndGlyphs">R</text>
<text x="272.8" y="490.6" font-family="Liberation Sans, sans-serif" font-weight="bold" font-size="8.6" textLength="11.6" lengthAdjust="spacingAndGlyphs">eff</text>
<g transform="translate(15.2,289.2) rotate(-90)">
<text x="0.2" y="0" font-family="Liberation Serif, serif" font-style="italic" font-size="15.8" stroke="#000" stroke-width="0.45" textLength="12.2" lengthAdjust="spacingAndGlyphs">M</text>
<text x="12.6" y="4.6" font-family="Liberation Sans, sans-serif" font-weight="bold" font-size="8.4" textLength="11.4" lengthAdjust="spacingAndGlyphs">DM</text>
<text transform="translate(23.4,2.6) skewX(-22)" x="0" y="0" font-family="Liberation Serif, serif" font-size="21.5" stroke="#000" stroke-width="0.4">/</text>
<text x="36" y="0" font-family="Liberation Serif, serif" font-style="italic" font-size="15.8" stroke="#000" stroke-width="0.45" textLength="12.2" lengthAdjust="spacingAndGlyphs">M</text>
<text x="48.9" y="4.3" font-family="Liberation Sans, sans-serif" font-weight="bold" font-size="8.4" textLength="13" lengthAdjust="spacingAndGlyphs">tot</text>
<text x="71.2" y="-0.8" font-family="Liberation Serif, serif" font-size="17">(</text>
<text x="77.6" y="1.2" font-family="Liberation Serif, serif" font-size="18" textLength="9" lengthAdjust="spacingAndGlyphs">&lt;</text>
<text x="85.8" y="0" font-family="Liberation Serif, serif" font-style="italic" font-size="17.5" textLength="9.8" lengthAdjust="spacingAndGlyphs">r</text>
<text x="96" y="-0.8" font-family="Liberation Serif, serif" font-size="17">)</text>
</g>
</svg>
</body></html>
